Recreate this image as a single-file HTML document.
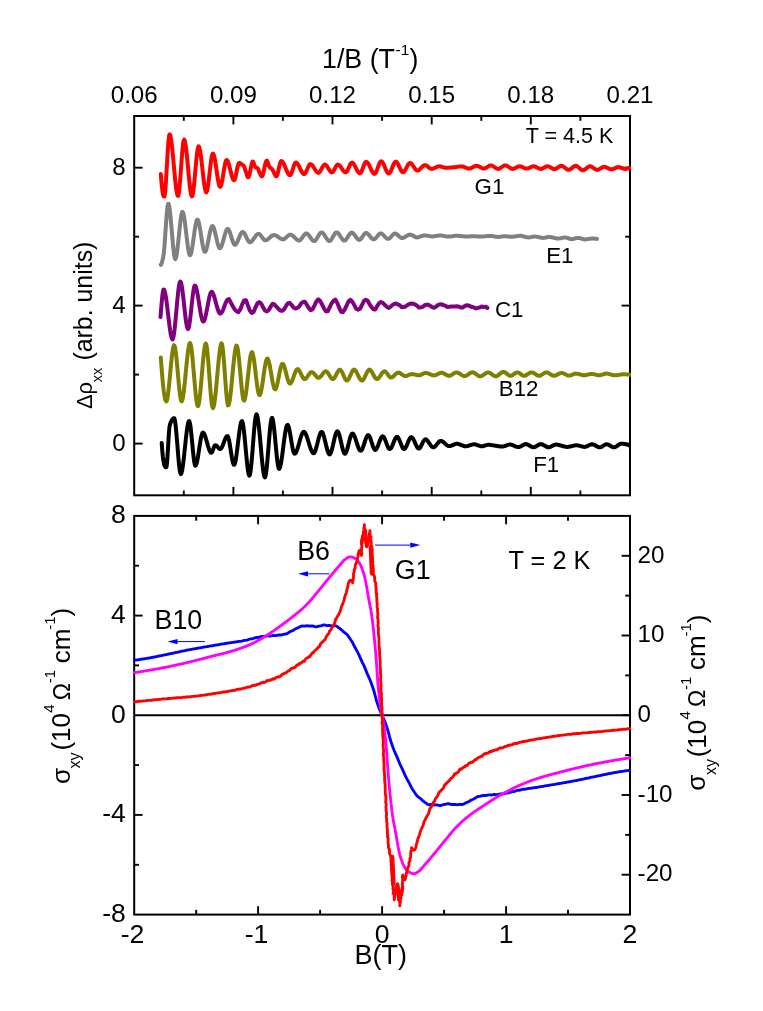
<!DOCTYPE html>
<html><head><meta charset="utf-8"><title>chart</title>
<style>html,body{margin:0;padding:0;background:#fff}svg{display:block;will-change:transform}</style></head>
<body>
<svg width="763" height="1011" viewBox="0 0 763 1011" font-family="'Liberation Sans', sans-serif" fill="#000">
<rect width="763" height="1011" fill="#fff"/>
<defs><clipPath id="ct"><rect x="133.2" y="115" width="497.8" height="381.3"/></clipPath>
<clipPath id="cb"><rect x="133.2" y="514.9" width="497.8" height="400.7"/></clipPath></defs>
<rect x="134.2" y="116" width="495.8" height="379.3" fill="none" stroke="#000" stroke-width="2.0"/>
<text x="134.2" y="102.6" font-size="24.1" text-anchor="middle" >0.06</text>
<line x1="183.8" y1="116" x2="183.8" y2="120.8" stroke="#000" stroke-width="1.9"/>
<line x1="183.8" y1="495.3" x2="183.8" y2="490.5" stroke="#000" stroke-width="1.9"/>
<line x1="233.4" y1="116" x2="233.4" y2="124.4" stroke="#000" stroke-width="1.9"/>
<line x1="233.4" y1="495.3" x2="233.4" y2="486.9" stroke="#000" stroke-width="1.9"/>
<text x="233.4" y="102.6" font-size="24.1" text-anchor="middle" >0.09</text>
<line x1="282.9" y1="116" x2="282.9" y2="120.8" stroke="#000" stroke-width="1.9"/>
<line x1="282.9" y1="495.3" x2="282.9" y2="490.5" stroke="#000" stroke-width="1.9"/>
<line x1="332.5" y1="116" x2="332.5" y2="124.4" stroke="#000" stroke-width="1.9"/>
<line x1="332.5" y1="495.3" x2="332.5" y2="486.9" stroke="#000" stroke-width="1.9"/>
<text x="332.5" y="102.6" font-size="24.1" text-anchor="middle" >0.12</text>
<line x1="382.1" y1="116" x2="382.1" y2="120.8" stroke="#000" stroke-width="1.9"/>
<line x1="382.1" y1="495.3" x2="382.1" y2="490.5" stroke="#000" stroke-width="1.9"/>
<line x1="431.7" y1="116" x2="431.7" y2="124.4" stroke="#000" stroke-width="1.9"/>
<line x1="431.7" y1="495.3" x2="431.7" y2="486.9" stroke="#000" stroke-width="1.9"/>
<text x="431.7" y="102.6" font-size="24.1" text-anchor="middle" >0.15</text>
<line x1="481.3" y1="116" x2="481.3" y2="120.8" stroke="#000" stroke-width="1.9"/>
<line x1="481.3" y1="495.3" x2="481.3" y2="490.5" stroke="#000" stroke-width="1.9"/>
<line x1="530.8" y1="116" x2="530.8" y2="124.4" stroke="#000" stroke-width="1.9"/>
<line x1="530.8" y1="495.3" x2="530.8" y2="486.9" stroke="#000" stroke-width="1.9"/>
<text x="530.8" y="102.6" font-size="24.1" text-anchor="middle" >0.18</text>
<line x1="580.4" y1="116" x2="580.4" y2="120.8" stroke="#000" stroke-width="1.9"/>
<line x1="580.4" y1="495.3" x2="580.4" y2="490.5" stroke="#000" stroke-width="1.9"/>
<text x="630" y="102.6" font-size="24.1" text-anchor="middle" >0.21</text>
<line x1="134.2" y1="443.6" x2="142.6" y2="443.6" stroke="#000" stroke-width="1.9"/>
<line x1="630" y1="443.6" x2="621.6" y2="443.6" stroke="#000" stroke-width="1.9"/>
<text x="125.7" y="450.7" font-size="24.1" text-anchor="end" >0</text>
<line x1="134.2" y1="374.6" x2="139" y2="374.6" stroke="#000" stroke-width="1.9"/>
<line x1="630" y1="374.6" x2="625.2" y2="374.6" stroke="#000" stroke-width="1.9"/>
<line x1="134.2" y1="305.6" x2="142.6" y2="305.6" stroke="#000" stroke-width="1.9"/>
<line x1="630" y1="305.6" x2="621.6" y2="305.6" stroke="#000" stroke-width="1.9"/>
<text x="125.7" y="312.8" font-size="24.1" text-anchor="end" >4</text>
<line x1="134.2" y1="236.7" x2="139" y2="236.7" stroke="#000" stroke-width="1.9"/>
<line x1="630" y1="236.7" x2="625.2" y2="236.7" stroke="#000" stroke-width="1.9"/>
<line x1="134.2" y1="167.7" x2="142.6" y2="167.7" stroke="#000" stroke-width="1.9"/>
<line x1="630" y1="167.7" x2="621.6" y2="167.7" stroke="#000" stroke-width="1.9"/>
<text x="125.7" y="174.8" font-size="24.1" text-anchor="end" >8</text>
<rect x="134.2" y="515.9" width="495.8" height="398.7" fill="none" stroke="#000" stroke-width="2.0"/>
<line x1="134.2" y1="715.2" x2="630" y2="715.2" stroke="#000" stroke-width="2.0"/>
<text x="132.6" y="942.6" font-size="26.6" text-anchor="middle" >-2</text>
<line x1="196.2" y1="515.9" x2="196.2" y2="520.7" stroke="#000" stroke-width="1.9"/>
<line x1="196.2" y1="914.6" x2="196.2" y2="909.8" stroke="#000" stroke-width="1.9"/>
<line x1="258.1" y1="515.9" x2="258.1" y2="524.3" stroke="#000" stroke-width="1.9"/>
<line x1="258.1" y1="914.6" x2="258.1" y2="906.2" stroke="#000" stroke-width="1.9"/>
<text x="256.5" y="942.6" font-size="26.6" text-anchor="middle" >-1</text>
<line x1="320.1" y1="515.9" x2="320.1" y2="520.7" stroke="#000" stroke-width="1.9"/>
<line x1="320.1" y1="914.6" x2="320.1" y2="909.8" stroke="#000" stroke-width="1.9"/>
<line x1="382.1" y1="515.9" x2="382.1" y2="524.3" stroke="#000" stroke-width="1.9"/>
<line x1="382.1" y1="914.6" x2="382.1" y2="906.2" stroke="#000" stroke-width="1.9"/>
<text x="382.1" y="942.6" font-size="26.6" text-anchor="middle" >0</text>
<line x1="444.1" y1="515.9" x2="444.1" y2="520.7" stroke="#000" stroke-width="1.9"/>
<line x1="444.1" y1="914.6" x2="444.1" y2="909.8" stroke="#000" stroke-width="1.9"/>
<line x1="506.1" y1="515.9" x2="506.1" y2="524.3" stroke="#000" stroke-width="1.9"/>
<line x1="506.1" y1="914.6" x2="506.1" y2="906.2" stroke="#000" stroke-width="1.9"/>
<text x="506.1" y="942.6" font-size="26.6" text-anchor="middle" >1</text>
<line x1="568" y1="515.9" x2="568" y2="520.7" stroke="#000" stroke-width="1.9"/>
<line x1="568" y1="914.6" x2="568" y2="909.8" stroke="#000" stroke-width="1.9"/>
<text x="630" y="942.6" font-size="26.6" text-anchor="middle" >2</text>
<text x="125.8" y="921.9" font-size="26.5" text-anchor="end" >-8</text>
<line x1="134.2" y1="864.8" x2="139" y2="864.8" stroke="#000" stroke-width="1.9"/>
<line x1="134.2" y1="814.9" x2="142.6" y2="814.9" stroke="#000" stroke-width="1.9"/>
<text x="125.8" y="822.2" font-size="26.5" text-anchor="end" >-4</text>
<line x1="134.2" y1="765.1" x2="139" y2="765.1" stroke="#000" stroke-width="1.9"/>
<text x="125.8" y="722.5" font-size="26.5" text-anchor="end" >0</text>
<line x1="134.2" y1="665.4" x2="139" y2="665.4" stroke="#000" stroke-width="1.9"/>
<line x1="134.2" y1="615.6" x2="142.6" y2="615.6" stroke="#000" stroke-width="1.9"/>
<text x="125.8" y="622.9" font-size="26.5" text-anchor="end" >4</text>
<line x1="134.2" y1="565.7" x2="139" y2="565.7" stroke="#000" stroke-width="1.9"/>
<text x="125.8" y="523.2" font-size="26.5" text-anchor="end" >8</text>
<line x1="630" y1="874.7" x2="621.6" y2="874.7" stroke="#000" stroke-width="1.9"/>
<text x="637.6" y="881.4" font-size="24.2" text-anchor="start" >-20</text>
<line x1="630" y1="834.9" x2="625.2" y2="834.9" stroke="#000" stroke-width="1.9"/>
<line x1="630" y1="795" x2="621.6" y2="795" stroke="#000" stroke-width="1.9"/>
<text x="637.6" y="801.7" font-size="24.2" text-anchor="start" >-10</text>
<line x1="630" y1="755.1" x2="625.2" y2="755.1" stroke="#000" stroke-width="1.9"/>
<line x1="630" y1="715.2" x2="621.6" y2="715.2" stroke="#000" stroke-width="1.9"/>
<text x="637.6" y="722" font-size="24.2" text-anchor="start" >0</text>
<line x1="630" y1="675.4" x2="625.2" y2="675.4" stroke="#000" stroke-width="1.9"/>
<line x1="630" y1="635.5" x2="621.6" y2="635.5" stroke="#000" stroke-width="1.9"/>
<text x="637.6" y="642.2" font-size="24.2" text-anchor="start" >10</text>
<line x1="630" y1="595.6" x2="625.2" y2="595.6" stroke="#000" stroke-width="1.9"/>
<line x1="630" y1="555.8" x2="621.6" y2="555.8" stroke="#000" stroke-width="1.9"/>
<text x="637.6" y="562.5" font-size="24.2" text-anchor="start" >20</text>
<g clip-path="url(#ct)">
<path d="M161.7 442.9 L162.3 451 L162.9 457 L163.5 461.4 L164.1 464.3 L164.7 466.1 L165.3 467 L165.9 467.4 L166.5 467 L167.1 462.2 L167.7 453.5 L168.3 443.1 L168.9 433.4 L169.5 426.6 L170.1 424.1 L170.7 422.6 L171.3 421.2 L171.9 420.1 L172.5 419.2 L173.1 418.5 L173.7 418.2 L174.3 418.2 L174.9 420.3 L175.5 424.4 L176.1 430.1 L176.7 436.9 L177.3 444.2 L177.9 451.7 L178.5 458.8 L179.1 465.1 L179.7 470.1 L180.3 473.2 L180.9 474.1 L181.5 473 L182.1 470.6 L182.7 467 L183.3 462.5 L183.9 457.4 L184.5 451.9 L185.1 446.1 L185.7 440.4 L186.3 435.1 L186.9 430.2 L187.5 426.2 L188.1 423.1 L188.7 421.4 L189.3 421.1 L189.9 423 L190.5 426.6 L191.1 431.7 L191.7 437.6 L192.3 443.9 L192.9 450.2 L193.5 456 L194.1 460.8 L194.7 464.2 L195.3 465.7 L195.9 465.3 L196.5 463.8 L197.1 461.4 L197.7 458.3 L198.3 454.7 L198.9 450.8 L199.5 446.8 L200.1 443 L200.7 439.5 L201.3 436.5 L201.9 434.2 L202.5 432.9 L203.1 432.6 L203.7 433.1 L204.3 434.1 L204.9 435.5 L205.5 437.2 L206.1 439.2 L206.7 441.3 L207.3 443.4 L207.9 445.6 L208.5 447.6 L209.1 449.4 L209.7 450.9 L210.3 452 L210.9 452.7 L211.5 452.7 L212.1 452 L212.7 450.6 L213.3 449 L213.9 447.3 L214.5 445.9 L215.1 445.2 L215.7 445.2 L216.3 445.5 L216.9 446.1 L217.5 446.8 L218.1 447.5 L218.7 448.2 L219.3 448.7 L219.9 449.1 L220.5 449 L221.1 448.5 L221.7 447.6 L222.3 446.4 L222.9 445 L223.5 443.4 L224.1 441.7 L224.7 440.1 L225.3 438.7 L225.9 437.5 L226.5 436.6 L227.1 436.1 L227.7 436.2 L228.3 437.4 L228.9 439.7 L229.5 442.7 L230.1 446.3 L230.7 450.1 L231.3 454 L231.9 457.6 L232.5 460.7 L233.1 463.2 L233.7 464.6 L234.3 464.8 L234.9 463.6 L235.5 461.2 L236.1 457.7 L236.7 453.5 L237.3 448.8 L237.9 443.8 L238.5 438.8 L239.1 433.9 L239.7 429.5 L240.3 425.8 L240.9 423 L241.5 421.3 L242.1 421.1 L242.7 422.7 L243.3 426 L243.9 430.6 L244.5 436.2 L245.1 442.4 L245.7 448.9 L246.3 455.4 L246.9 461.5 L247.5 466.9 L248.1 471.3 L248.7 474.4 L249.3 475.7 L249.9 474.8 L250.5 471.7 L251.1 466.8 L251.7 460.5 L252.3 453.3 L252.9 445.6 L253.5 437.9 L254.1 430.6 L254.7 424.1 L255.3 419 L255.9 415.5 L256.5 414.3 L257.1 415.2 L257.7 417.8 L258.3 421.8 L258.9 426.8 L259.5 432.7 L260.1 439.1 L260.7 445.8 L261.3 452.6 L261.9 459 L262.5 464.9 L263.1 469.9 L263.7 473.9 L264.3 476.5 L264.9 477.4 L265.5 476.2 L266.1 472.9 L266.7 467.9 L267.3 461.6 L267.9 454.5 L268.5 447 L269.1 439.5 L269.7 432.5 L270.3 426.4 L270.9 421.6 L271.5 418.6 L272.1 417.8 L272.7 419.2 L273.3 422.3 L273.9 426.8 L274.5 432.3 L275.1 438.5 L275.7 445 L276.3 451.3 L276.9 457.2 L277.5 462.3 L278.1 466.1 L278.7 468.4 L279.3 468.8 L279.9 467.8 L280.5 465.6 L281.1 462.6 L281.7 458.8 L282.3 454.6 L282.9 450 L283.5 445.3 L284.1 440.6 L284.7 436.2 L285.3 432.3 L285.9 429 L286.5 426.5 L287.1 425.1 L287.7 424.9 L288.3 425.8 L288.9 427.7 L289.5 430.4 L290.1 433.6 L290.7 437.2 L291.3 440.8 L291.9 444.4 L292.5 447.7 L293.1 450.5 L293.7 452.5 L294.3 453.6 L294.9 453.7 L295.5 453.2 L296.1 452.2 L296.7 450.9 L297.3 449.2 L297.9 447.3 L298.5 445.3 L299.1 443.2 L299.7 441 L300.3 438.9 L300.9 437 L301.5 435.2 L302.1 433.8 L302.7 432.7 L303.3 432 L303.9 431.8 L304.5 432.1 L305.1 432.8 L305.7 433.9 L306.3 435.3 L306.9 436.9 L307.5 438.7 L308.1 440.6 L308.7 442.5 L309.3 444.5 L309.9 446.4 L310.5 448.2 L311.1 449.8 L311.7 451.2 L312.3 452.3 L312.9 453 L313.5 453.3 L314.1 453.1 L314.7 452.2 L315.3 450.8 L315.9 449 L316.5 446.9 L317.1 444.6 L317.7 442.1 L318.3 439.8 L318.9 437.5 L319.5 435.5 L320.1 433.8 L320.7 432.6 L321.3 431.9 L321.9 431.9 L322.5 432.6 L323.1 433.9 L323.7 435.7 L324.3 437.8 L324.9 440.2 L325.5 442.7 L326.1 445.2 L326.7 447.6 L327.3 449.9 L327.9 451.8 L328.5 453.2 L329.1 454.1 L329.7 454.4 L330.3 453.9 L330.9 452.7 L331.5 451 L332.1 448.8 L332.7 446.4 L333.3 443.7 L333.9 441.1 L334.5 438.5 L335.1 436.1 L335.7 434.1 L336.3 432.5 L336.9 431.6 L337.5 431.3 L338.1 431.9 L338.7 433.1 L339.3 434.9 L339.9 437.1 L340.5 439.7 L341.1 442.3 L341.7 445 L342.3 447.6 L342.9 449.9 L343.5 451.7 L344.1 453.1 L344.7 453.8 L345.3 453.6 L345.9 452.8 L346.5 451.4 L347.1 449.6 L347.7 447.4 L348.3 445.1 L348.9 442.6 L349.5 440.3 L350.1 438.1 L350.7 436.2 L351.3 434.7 L351.9 433.8 L352.5 433.5 L353.1 433.8 L353.7 434.6 L354.3 435.8 L354.9 437.3 L355.5 438.9 L356.1 440.7 L356.7 442.6 L357.3 444.5 L357.9 446.2 L358.5 447.8 L359.1 449.1 L359.7 450.1 L360.3 450.7 L360.9 450.8 L361.5 450.3 L362.1 449.4 L362.7 448 L363.3 446.4 L363.9 444.7 L364.5 442.8 L365.1 440.9 L365.7 439.2 L366.3 437.6 L366.9 436.4 L367.5 435.5 L368.1 435.1 L368.7 435.3 L369.3 436.1 L369.9 437.3 L370.5 438.8 L371.1 440.6 L371.7 442.5 L372.3 444.4 L372.9 446.2 L373.5 447.7 L374.1 448.9 L374.7 449.7 L375.3 449.9 L375.9 449.6 L376.5 448.8 L377.1 447.7 L377.7 446.4 L378.3 444.9 L378.9 443.2 L379.5 441.6 L380.1 440.1 L380.7 438.7 L381.3 437.5 L381.9 436.7 L382.5 436.3 L383.1 436.4 L383.7 437 L384.3 438 L384.9 439.2 L385.5 440.7 L386.1 442.3 L386.7 443.9 L387.3 445.5 L387.9 446.8 L388.5 448 L389.1 448.8 L389.7 449.1 L390.3 448.9 L390.9 448.3 L391.5 447.4 L392.1 446.1 L392.7 444.7 L393.3 443.2 L393.9 441.7 L394.5 440.2 L395.1 438.9 L395.7 437.9 L396.3 437.1 L396.9 436.8 L397.5 437 L398.1 437.6 L398.7 438.6 L399.3 439.8 L399.9 441.3 L400.5 442.8 L401.1 444.4 L401.7 445.8 L402.3 447.1 L402.9 448.2 L403.5 448.9 L404.1 449.1 L404.7 448.9 L405.3 448.2 L405.9 447.2 L406.5 446 L407.1 444.6 L407.7 443.1 L408.3 441.6 L408.9 440.2 L409.5 439 L410.1 438 L410.7 437.3 L411.3 437.1 L411.9 437.3 L412.5 437.9 L413.1 438.8 L413.7 439.9 L414.3 441.1 L414.9 442.5 L415.5 443.9 L416.1 445.2 L416.7 446.4 L417.3 447.4 L417.9 448.1 L418.5 448.5 L419.1 448.5 L419.7 448.1 L420.3 447.4 L420.9 446.4 L421.5 445.2 L422.1 444 L422.7 442.7 L423.3 441.5 L423.9 440.5 L424.5 439.8 L425.1 439.4 L425.7 439.3 L426.3 439.6 L426.9 440.1 L427.5 440.7 L428.1 441.5 L428.7 442.4 L429.3 443.3 L429.9 444.2 L430.5 445.1 L431.1 445.9 L431.7 446.5 L432.3 447 L432.9 447.3 L433.5 447.4 L434.1 447.2 L434.7 446.8 L435.3 446.3 L435.9 445.6 L436.5 444.9 L437.1 444.1 L437.7 443.3 L438.3 442.6 L438.9 441.9 L439.5 441.4 L440.1 441.1 L440.7 440.9 L441.3 441 L441.9 441.1 L442.5 441.5 L443.1 441.9 L443.7 442.4 L444.3 442.9 L444.9 443.5 L445.5 444 L446.1 444.6 L446.7 445 L447.3 445.5 L447.9 445.8 L448.5 446 L449.1 446.1 L449.7 446.1 L450.3 446 L450.9 445.8 L451.5 445.6 L452.1 445.3 L452.7 445.1 L453.3 444.8 L453.9 444.6 L454.5 444.3 L455.1 444.1 L455.7 443.9 L456.3 443.8 L456.9 443.8 L457.5 443.8 L458.1 443.9 L458.7 444.1 L459.3 444.3 L459.9 444.5 L460.5 444.7 L461.1 445 L461.7 445.2 L462.3 445.5 L462.9 445.7 L463.5 445.9 L464.1 446.1 L464.7 446.2 L465.3 446.3 L465.9 446.3 L466.5 446.2 L467.1 446.1 L467.7 446 L468.3 445.8 L468.9 445.6 L469.5 445.4 L470.1 445.2 L470.7 445 L471.3 444.8 L471.9 444.6 L472.5 444.5 L473.1 444.4 L473.7 444.3 L474.3 444.3 L474.9 444.4 L475.5 444.5 L476.1 444.6 L476.7 444.8 L477.3 445.1 L477.9 445.3 L478.5 445.5 L479.1 445.7 L479.7 445.9 L480.3 446.1 L480.9 446.2 L481.5 446.3 L482.1 446.3 L482.7 446.2 L483.3 446.1 L483.9 445.9 L484.5 445.7 L485.1 445.5 L485.7 445.3 L486.3 445.1 L486.9 445 L487.5 444.9 L488.1 444.8 L488.7 444.8 L489.3 444.8 L489.9 444.9 L490.5 444.9 L491.1 445 L491.7 445.1 L492.3 445.2 L492.9 445.3 L493.5 445.4 L494.1 445.5 L494.7 445.6 L495.3 445.7 L495.9 445.8 L496.5 445.9 L497.1 446 L497.7 446.2 L498.3 446.2 L498.9 446.3 L499.5 446.4 L500.1 446.5 L500.7 446.5 L501.3 446.6 L501.9 446.6 L502.5 446.6 L503.1 446.5 L503.7 446.4 L504.3 446.2 L504.9 446 L505.5 445.8 L506.1 445.6 L506.7 445.3 L507.3 445.1 L507.9 444.9 L508.5 444.7 L509.1 444.6 L509.7 444.5 L510.3 444.5 L510.9 444.6 L511.5 444.7 L512.1 444.9 L512.7 445.2 L513.3 445.4 L513.9 445.7 L514.5 446 L515.1 446.3 L515.7 446.5 L516.3 446.7 L516.9 446.9 L517.5 447 L518.1 447.1 L518.7 447.1 L519.3 447 L519.9 446.7 L520.5 446.5 L521.1 446.2 L521.7 445.8 L522.3 445.5 L522.9 445.1 L523.5 444.8 L524.1 444.5 L524.7 444.3 L525.3 444.1 L525.9 444.1 L526.5 444.2 L527.1 444.3 L527.7 444.6 L528.3 444.9 L528.9 445.2 L529.5 445.6 L530.1 445.9 L530.7 446.3 L531.3 446.6 L531.9 446.9 L532.5 447.1 L533.1 447.3 L533.7 447.3 L534.3 447.2 L534.9 447 L535.5 446.7 L536.1 446.4 L536.7 446 L537.3 445.6 L537.9 445.2 L538.5 444.9 L539.1 444.6 L539.7 444.3 L540.3 444.1 L540.9 444.1 L541.5 444.2 L542.1 444.3 L542.7 444.6 L543.3 444.9 L543.9 445.2 L544.5 445.6 L545.1 445.9 L545.7 446.3 L546.3 446.6 L546.9 446.9 L547.5 447.1 L548.1 447.3 L548.7 447.3 L549.3 447.2 L549.9 447.1 L550.5 446.8 L551.1 446.5 L551.7 446.2 L552.3 445.9 L552.9 445.6 L553.5 445.3 L554.1 445 L554.7 444.8 L555.3 444.6 L555.9 444.6 L556.5 444.6 L557.1 444.7 L557.7 444.8 L558.3 444.9 L558.9 445 L559.5 445.2 L560.1 445.3 L560.7 445.5 L561.3 445.7 L561.9 445.8 L562.5 446 L563.1 446.2 L563.7 446.3 L564.3 446.5 L564.9 446.6 L565.5 446.7 L566.1 446.8 L566.7 446.9 L567.3 446.9 L567.9 446.9 L568.5 446.8 L569.1 446.8 L569.7 446.7 L570.3 446.5 L570.9 446.4 L571.5 446.2 L572.1 446.1 L572.7 445.9 L573.3 445.8 L573.9 445.6 L574.5 445.5 L575.1 445.4 L575.7 445.3 L576.3 445.3 L576.9 445.3 L577.5 445.4 L578.1 445.4 L578.7 445.6 L579.3 445.7 L579.9 445.9 L580.5 446.1 L581.1 446.2 L581.7 446.4 L582.3 446.6 L582.9 446.7 L583.5 446.8 L584.1 446.9 L584.7 446.9 L585.3 446.8 L585.9 446.7 L586.5 446.5 L587.1 446.2 L587.7 445.9 L588.3 445.6 L588.9 445.3 L589.5 445 L590.1 444.7 L590.7 444.5 L591.3 444.3 L591.9 444.3 L592.5 444.3 L593.1 444.5 L593.7 444.7 L594.3 444.9 L594.9 445.2 L595.5 445.6 L596.1 445.9 L596.7 446.2 L597.3 446.6 L597.9 446.8 L598.5 447.1 L599.1 447.2 L599.7 447.3 L600.3 447.3 L600.9 447.1 L601.5 446.9 L602.1 446.5 L602.7 446.1 L603.3 445.7 L603.9 445.3 L604.5 445 L605.1 444.6 L605.7 444.4 L606.3 444.3 L606.9 444.3 L607.5 444.4 L608.1 444.7 L608.7 444.9 L609.3 445.2 L609.9 445.6 L610.5 445.9 L611.1 446.3 L611.7 446.6 L612.3 446.9 L612.9 447.1 L613.5 447.3 L614.1 447.3 L614.7 447.2 L615.3 447 L615.9 446.7 L616.5 446.3 L617.1 445.9 L617.7 445.5 L618.3 445 L618.9 444.6 L619.5 444.3 L620.1 444 L620.7 443.8 L621.3 443.8 L621.9 443.8 L622.5 443.8 L623.1 443.8 L623.7 443.9 L624.3 443.9 L624.9 444 L625.5 444.1 L626.1 444.3 L626.7 444.4 L627.3 444.6 L627.9 444.9 L628.5 445.1 L629 445.4" fill="none" stroke="#000000" stroke-width="4.0" stroke-linejoin="round" stroke-linecap="round" />
<path d="M160.8 357.5 L161.4 365.7 L162 373.3 L162.6 380.1 L163.2 386.2 L163.8 391.3 L164.4 395.4 L165 398.5 L165.6 400.6 L166.2 401.4 L166.8 400.7 L167.4 398.4 L168 394.6 L168.6 389.6 L169.2 383.9 L169.8 377.6 L170.4 371.1 L171 364.8 L171.6 358.8 L172.2 353.6 L172.8 349.4 L173.4 346.5 L174 345.2 L174.6 345.9 L175.2 348.5 L175.8 352.6 L176.4 357.8 L177 363.9 L177.6 370.5 L178.2 377.2 L178.8 383.7 L179.4 389.7 L180 394.8 L180.6 398.7 L181.2 400.9 L181.8 401.3 L182.4 399.9 L183 397.1 L183.6 393 L184.2 388.1 L184.8 382.4 L185.4 376.4 L186 370.1 L186.6 364 L187.2 358.1 L187.8 352.9 L188.4 348.5 L189 345.3 L189.6 343.4 L190.2 343.1 L190.8 344.8 L191.4 348.2 L192 353.1 L192.6 359 L193.2 365.7 L193.8 372.8 L194.4 379.9 L195 386.8 L195.6 393.2 L196.2 398.6 L196.8 402.8 L197.4 405.4 L198 406.1 L198.6 404.7 L199.2 401.6 L199.8 397 L200.4 391.3 L201 384.7 L201.6 377.8 L202.2 370.7 L202.8 363.7 L203.4 357.3 L204 351.8 L204.6 347.4 L205.2 344.5 L205.8 343.5 L206.4 344.8 L207 348.4 L207.6 353.9 L208.2 360.7 L208.8 368.4 L209.4 376.5 L210 384.6 L210.6 392.2 L211.2 398.8 L211.8 403.9 L212.4 407.2 L213 408.1 L213.6 406.9 L214.2 404.2 L214.8 400.2 L215.4 395.1 L216 389.3 L216.6 382.9 L217.2 376.3 L217.8 369.6 L218.4 363.2 L219 357.2 L219.6 352 L220.2 347.8 L220.8 344.8 L221.4 343.4 L222 344 L222.6 347.2 L223.2 352.5 L223.8 359.5 L224.4 367.4 L225 375.9 L225.6 384.2 L226.2 391.9 L226.8 398.4 L227.4 403.1 L228 405.4 L228.6 405.2 L229.2 403.2 L229.8 399.9 L230.4 395.4 L231 390 L231.6 384 L232.2 377.7 L232.8 371.3 L233.4 365 L234 359.2 L234.6 354.1 L235.2 350 L235.8 347 L236.4 345.6 L237 346 L237.6 348.3 L238.2 352.1 L238.8 357.2 L239.4 363.2 L240 369.8 L240.6 376.4 L241.2 383 L241.8 389 L242.4 394.1 L243 397.9 L243.6 400.2 L244.2 400.6 L244.8 399.3 L245.4 396.7 L246 392.9 L246.6 388.4 L247.2 383.2 L247.8 377.8 L248.4 372.3 L249 366.9 L249.6 362.1 L250.2 357.9 L250.8 354.7 L251.4 352.7 L252 352.1 L252.6 353.1 L253.2 355.5 L253.8 358.8 L254.4 363 L255 367.8 L255.6 372.8 L256.2 377.9 L256.8 382.8 L257.4 387.2 L258 390.9 L258.6 393.6 L259.2 395.1 L259.8 395.1 L260.4 393.9 L261 391.7 L261.6 388.7 L262.2 385.1 L262.8 381.1 L263.4 376.9 L264 372.7 L264.6 368.7 L265.2 365.1 L265.8 362.1 L266.4 359.9 L267 358.7 L267.6 358.6 L268.2 359.6 L268.8 361.5 L269.4 364 L270 367 L270.6 370.4 L271.2 373.9 L271.8 377.5 L272.4 380.9 L273 383.9 L273.6 386.4 L274.2 388.3 L274.8 389.3 L275.4 389.3 L276 388.4 L276.6 386.7 L277.2 384.4 L277.8 381.7 L278.4 378.7 L279 375.6 L279.6 372.5 L280.2 369.7 L280.8 367.2 L281.4 365.3 L282 364.1 L282.6 363.8 L283.2 364.3 L283.8 365.4 L284.4 367 L285 368.9 L285.6 371.2 L286.2 373.5 L286.8 375.9 L287.4 378.1 L288 380.1 L288.6 381.8 L289.2 383 L289.8 383.6 L290.4 383.5 L291 382.9 L291.6 381.9 L292.2 380.6 L292.8 379 L293.4 377.4 L294 375.6 L294.6 373.9 L295.2 372.4 L295.8 371 L296.4 369.9 L297 369.3 L297.6 369.1 L298.2 369.4 L298.8 370 L299.4 370.9 L300 371.9 L300.6 373.2 L301.2 374.4 L301.8 375.7 L302.4 376.8 L303 377.8 L303.6 378.6 L304.2 379 L304.8 379.1 L305.4 378.8 L306 378.4 L306.6 377.7 L307.2 376.9 L307.8 376 L308.4 375.2 L309 374.3 L309.6 373.5 L310.2 372.8 L310.8 372.4 L311.4 372.1 L312 372.2 L312.6 372.4 L313.2 372.9 L313.8 373.4 L314.4 374.1 L315 374.8 L315.6 375.6 L316.2 376.2 L316.8 376.9 L317.4 377.4 L318 377.7 L318.6 377.8 L319.2 377.7 L319.8 377.3 L320.4 376.8 L321 376.1 L321.6 375.4 L322.2 374.6 L322.8 373.7 L323.4 373 L324 372.3 L324.6 371.8 L325.2 371.4 L325.8 371.3 L326.4 371.5 L327 371.9 L327.6 372.5 L328.2 373.4 L328.8 374.3 L329.4 375.3 L330 376.3 L330.6 377.2 L331.2 378 L331.8 378.6 L332.4 379 L333 379.1 L333.6 378.8 L334.2 378.2 L334.8 377.4 L335.4 376.3 L336 375.2 L336.6 373.9 L337.2 372.7 L337.8 371.7 L338.4 370.7 L339 370 L339.6 369.7 L340.2 369.7 L340.8 370.1 L341.4 370.9 L342 372 L342.6 373.2 L343.2 374.6 L343.8 376 L344.4 377.4 L345 378.6 L345.6 379.6 L346.2 380.3 L346.8 380.6 L347.4 380.4 L348 379.9 L348.6 379 L349.2 377.9 L349.8 376.7 L350.4 375.3 L351 374 L351.6 372.7 L352.2 371.5 L352.8 370.5 L353.4 369.9 L354 369.6 L354.6 369.7 L355.2 370.2 L355.8 370.9 L356.4 371.9 L357 373 L357.6 374.3 L358.2 375.5 L358.8 376.8 L359.4 377.9 L360 379 L360.6 379.8 L361.2 380.4 L361.8 380.6 L362.4 380.5 L363 380 L363.6 379.2 L364.2 378.1 L364.8 376.9 L365.4 375.6 L366 374.3 L366.6 373.1 L367.2 371.9 L367.8 370.9 L368.4 370.1 L369 369.7 L369.6 369.6 L370.2 369.9 L370.8 370.5 L371.4 371.3 L372 372.2 L372.6 373.3 L373.2 374.4 L373.8 375.6 L374.4 376.6 L375 377.6 L375.6 378.3 L376.2 378.9 L376.8 379.1 L377.4 379 L378 378.7 L378.6 378.1 L379.2 377.4 L379.8 376.6 L380.4 375.7 L381 374.7 L381.6 373.8 L382.2 373 L382.8 372.3 L383.4 371.7 L384 371.4 L384.6 371.3 L385.2 371.5 L385.8 372 L386.4 372.6 L387 373.4 L387.6 374.2 L388.2 375.1 L388.8 375.9 L389.4 376.6 L390 377.2 L390.6 377.5 L391.2 377.6 L391.8 377.4 L392.4 377.1 L393 376.7 L393.6 376.1 L394.2 375.6 L394.8 374.9 L395.4 374.3 L396 373.8 L396.6 373.3 L397.2 372.9 L397.8 372.7 L398.4 372.6 L399 372.7 L399.6 372.9 L400.2 373.2 L400.8 373.6 L401.4 374.1 L402 374.5 L402.6 374.9 L403.2 375.3 L403.8 375.7 L404.4 375.9 L405 376.1 L405.6 376.1 L406.2 376 L406.8 375.8 L407.4 375.6 L408 375.3 L408.6 375 L409.2 374.7 L409.8 374.5 L410.4 374.3 L411 374.2 L411.6 374.1 L412.2 374.1 L412.8 374.2 L413.4 374.3 L414 374.4 L414.6 374.5 L415.2 374.7 L415.8 374.8 L416.4 374.9 L417 375.1 L417.6 375.2 L418.2 375.3 L418.8 375.3 L419.4 375.3 L420 375.2 L420.6 375 L421.2 374.7 L421.8 374.4 L422.4 374.1 L423 373.8 L423.6 373.5 L424.2 373.2 L424.8 373 L425.4 372.9 L426 372.9 L426.6 373 L427.2 373.1 L427.8 373.3 L428.4 373.5 L429 373.7 L429.6 374 L430.2 374.3 L430.8 374.5 L431.4 374.8 L432 375 L432.6 375.2 L433.2 375.3 L433.8 375.4 L434.4 375.4 L435 375.3 L435.6 375.1 L436.2 374.9 L436.8 374.6 L437.4 374.3 L438 374 L438.6 373.7 L439.2 373.4 L439.8 373.2 L440.4 373 L441 372.8 L441.6 372.8 L442.2 372.9 L442.8 373 L443.4 373.2 L444 373.5 L444.6 373.9 L445.2 374.2 L445.8 374.6 L446.4 374.9 L447 375.2 L447.6 375.5 L448.2 375.7 L448.8 375.8 L449.4 375.8 L450 375.7 L450.6 375.4 L451.2 375.1 L451.8 374.8 L452.4 374.4 L453 374 L453.6 373.6 L454.2 373.2 L454.8 372.9 L455.4 372.6 L456 372.5 L456.6 372.4 L457.2 372.5 L457.8 372.6 L458.4 372.9 L459 373.2 L459.6 373.6 L460.2 374 L460.8 374.4 L461.4 374.8 L462 375.2 L462.6 375.5 L463.2 375.8 L463.8 376 L464.4 376.1 L465 376.1 L465.6 375.9 L466.2 375.7 L466.8 375.4 L467.4 375 L468 374.6 L468.6 374.1 L469.2 373.7 L469.8 373.3 L470.4 372.9 L471 372.6 L471.6 372.4 L472.2 372.3 L472.8 372.3 L473.4 372.5 L474 372.7 L474.6 373.1 L475.2 373.5 L475.8 373.9 L476.4 374.4 L477 374.8 L477.6 375.3 L478.2 375.6 L478.8 376 L479.4 376.2 L480 376.3 L480.6 376.3 L481.2 376.1 L481.8 375.9 L482.4 375.6 L483 375.2 L483.6 374.8 L484.2 374.4 L484.8 373.9 L485.4 373.5 L486 373.1 L486.6 372.8 L487.2 372.6 L487.8 372.4 L488.4 372.4 L489 372.5 L489.6 372.8 L490.2 373.1 L490.8 373.5 L491.4 373.9 L492 374.4 L492.6 374.9 L493.2 375.3 L493.8 375.7 L494.4 376 L495 376.2 L495.6 376.3 L496.2 376.2 L496.8 376.1 L497.4 375.8 L498 375.4 L498.6 374.9 L499.2 374.4 L499.8 373.9 L500.4 373.4 L501 373 L501.6 372.6 L502.2 372.2 L502.8 372 L503.4 371.9 L504 372 L504.6 372.2 L505.2 372.5 L505.8 372.9 L506.4 373.4 L507 373.9 L507.6 374.4 L508.2 374.9 L508.8 375.3 L509.4 375.6 L510 375.8 L510.6 375.8 L511.2 375.7 L511.8 375.5 L512.4 375.1 L513 374.8 L513.6 374.4 L514.2 373.9 L514.8 373.5 L515.4 373.1 L516 372.8 L516.6 372.6 L517.2 372.4 L517.8 372.4 L518.4 372.6 L519 372.8 L519.6 373.2 L520.2 373.6 L520.8 374.1 L521.4 374.6 L522 375 L522.6 375.4 L523.2 375.6 L523.8 375.8 L524.4 375.8 L525 375.7 L525.6 375.4 L526.2 375.1 L526.8 374.8 L527.4 374.4 L528 374 L528.6 373.6 L529.2 373.2 L529.8 372.9 L530.4 372.6 L531 372.5 L531.6 372.4 L532.2 372.5 L532.8 372.6 L533.4 372.9 L534 373.2 L534.6 373.6 L535.2 374 L535.8 374.4 L536.4 374.8 L537 375.1 L537.6 375.4 L538.2 375.7 L538.8 375.8 L539.4 375.8 L540 375.7 L540.6 375.4 L541.2 375.1 L541.8 374.7 L542.4 374.3 L543 373.9 L543.6 373.5 L544.2 373.1 L544.8 372.8 L545.4 372.5 L546 372.4 L546.6 372.4 L547.2 372.5 L547.8 372.7 L548.4 373 L549 373.3 L549.6 373.7 L550.2 374.1 L550.8 374.5 L551.4 374.9 L552 375.2 L552.6 375.5 L553.2 375.7 L553.8 375.8 L554.4 375.8 L555 375.7 L555.6 375.5 L556.2 375.2 L556.8 374.9 L557.4 374.6 L558 374.3 L558.6 373.9 L559.2 373.6 L559.8 373.3 L560.4 373.1 L561 373 L561.6 372.9 L562.2 372.9 L562.8 373.1 L563.4 373.3 L564 373.6 L564.6 373.9 L565.2 374.2 L565.8 374.5 L566.4 374.8 L567 375.1 L567.6 375.3 L568.2 375.5 L568.8 375.6 L569.4 375.6 L570 375.5 L570.6 375.3 L571.2 375.1 L571.8 374.9 L572.4 374.6 L573 374.3 L573.6 374.1 L574.2 373.9 L574.8 373.7 L575.4 373.6 L576 373.6 L576.6 373.7 L577.2 373.7 L577.8 373.9 L578.4 374 L579 374.2 L579.6 374.4 L580.2 374.5 L580.8 374.7 L581.4 374.9 L582 375 L582.6 375.2 L583.2 375.2 L583.8 375.3 L584.4 375.3 L585 375.2 L585.6 375.2 L586.2 375 L586.8 374.9 L587.4 374.7 L588 374.6 L588.6 374.4 L589.2 374.2 L589.8 374.1 L590.4 374 L591 373.9 L591.6 373.9 L592.2 373.9 L592.8 374 L593.4 374.1 L594 374.2 L594.6 374.4 L595.2 374.6 L595.8 374.7 L596.4 374.9 L597 375 L597.6 375.2 L598.2 375.3 L598.8 375.3 L599.4 375.3 L600 375.2 L600.6 375.1 L601.2 374.9 L601.8 374.8 L602.4 374.6 L603 374.4 L603.6 374.2 L604.2 374 L604.8 373.8 L605.4 373.7 L606 373.6 L606.6 373.6 L607.2 373.6 L607.8 373.7 L608.4 373.8 L609 374 L609.6 374.1 L610.2 374.3 L610.8 374.5 L611.4 374.7 L612 374.8 L612.6 375 L613.2 375.1 L613.8 375.2 L614.4 375.3 L615 375.3 L615.6 375.3 L616.2 375.2 L616.8 375.2 L617.4 375.1 L618 375 L618.6 374.9 L619.2 374.8 L619.8 374.7 L620.4 374.6 L621 374.6 L621.6 374.5 L622.2 374.4 L622.8 374.3 L623.4 374.3 L624 374.3 L624.6 374.3 L625.2 374.3 L625.8 374.4 L626.4 374.4 L627 374.4 L627.6 374.5 L628.2 374.6 L628.8 374.6 L629.4 374.7 L629.8 374.8" fill="none" stroke="#808000" stroke-width="4.0" stroke-linejoin="round" stroke-linecap="round" />
<path d="M160.5 317.1 L161.1 309.6 L161.7 302.4 L162.3 296.3 L162.9 291.8 L163.5 289.5 L164.1 289.6 L164.7 291.1 L165.3 293.7 L165.9 297.1 L166.5 301.3 L167.1 306 L167.7 310.9 L168.3 316.1 L168.9 321.1 L169.5 325.9 L170.1 330.3 L170.7 334 L171.3 336.9 L171.9 338.7 L172.5 339.4 L173.1 338.4 L173.7 335.7 L174.3 331.6 L174.9 326.3 L175.5 320.3 L176.1 313.8 L176.7 307.1 L177.3 300.6 L177.9 294.6 L178.5 289.3 L179.1 285.2 L179.7 282.5 L180.3 281.5 L180.9 282.3 L181.5 284.6 L182.1 288.1 L182.7 292.5 L183.3 297.5 L183.9 303 L184.5 308.5 L185.1 313.9 L185.7 318.9 L186.3 323.2 L186.9 326.5 L187.5 328.5 L188.1 329.1 L188.7 327.8 L189.3 325 L189.9 321 L190.5 316.1 L191.1 310.6 L191.7 304.9 L192.3 299.4 L192.9 294.4 L193.5 290.2 L194.1 287.1 L194.7 285.6 L195.3 285.7 L195.9 286.9 L196.5 288.9 L197.1 291.6 L197.7 294.9 L198.3 298.5 L198.9 302.3 L199.5 306.1 L200.1 309.9 L200.7 313.4 L201.3 316.4 L201.9 318.9 L202.5 320.7 L203.1 321.5 L203.7 321.4 L204.3 320.4 L204.9 318.7 L205.5 316.4 L206.1 313.7 L206.7 310.7 L207.3 307.5 L207.9 304.3 L208.5 301.2 L209.1 298.3 L209.7 295.8 L210.3 293.8 L210.9 292.4 L211.5 291.8 L212.1 292 L212.7 292.8 L213.3 294 L213.9 295.6 L214.5 297.6 L215.1 299.7 L215.7 301.9 L216.3 304.2 L216.9 306.4 L217.5 308.5 L218.1 310.3 L218.7 311.8 L219.3 312.9 L219.9 313.5 L220.5 313.5 L221.1 313.1 L221.7 312.4 L222.3 311.4 L222.9 310.1 L223.5 308.7 L225.1 304.3 L227 300 L228.9 299 L230.8 302.5 L232.7 306.2 L234.6 309.3 L236.5 311.2 L238.4 312.2 L240.3 309.5 L242.2 304.4 L244.1 300.5 L246 300.2 L247.9 305.4 L249.8 310.6 L251.7 312.9 L253.6 312 L255.5 307.3 L257.4 303.3 L259.3 302.1 L261.2 303.6 L263.1 307.4 L265 310.5 L266.9 311.4 L268.8 310 L270.7 306.6 L272.6 303.8 L274.5 304.4 L276.4 306.7 L278.3 308.6 L280.2 310.5 L282.1 310.9 L284 309.5 L285.9 306.2 L287.8 303.4 L289.7 302.8 L291.6 305 L293.5 307.6 L295.4 308.6 L297.3 307.9 L299.2 306.6 L301.1 303.4 L303 302 L304.9 301.7 L306.8 304.7 L308.7 307.9 L310.6 310.1 L312.5 309.3 L314.4 305.6 L316.3 301.6 L318.2 299.4 L320.1 300.9 L322 304.3 L323.9 308.2 L325.8 311.2 L327.7 311.3 L329.6 307.5 L331.5 303.5 L333.4 300.9 L335.3 299.5 L337.2 302.7 L339.1 307.4 L341 311.7 L342.9 312.1 L344.8 309.4 L346.7 305.4 L348.6 301.3 L350.5 299.8 L352.4 301.9 L354.3 305.1 L356.2 308.8 L358.1 309.7 L360 308.7 L361.9 305.3 L363.8 301.1 L365.7 299.7 L367.6 300.8 L369.5 304.1 L371.4 307 L373.3 309.2 L375.2 309.5 L377.1 306.3 L379 303.2 L380.9 302.1 L382.8 302.8 L384.7 304.8 L386.6 306.6 L388.5 307.9 L390.4 306.9 L392.3 305.1 L394.2 303.9 L396.1 303.5 L398 304.5 L399.9 305.4 L401.8 307.2 L403.7 307.1 L405.6 306.5 L407.5 305.1 L409.4 304.1 L411.3 303.5 L413.2 303.7 L415.1 304.5 L417 305.7 L418.9 307.5 L420.8 307.4 L422.7 306.9 L424.6 305.2 L426.5 304.7 L428.4 304.8 L430.3 305.9 L432.2 307.1 L434.1 307.8 L436 306.8 L437.9 305.1 L439.8 304.4 L441.7 304.2 L443.6 305.1 L445.5 305.8 L447.4 307 L449.3 306.8 L451.2 306.5 L453.1 306.4 L455 306.5 L456.9 306.2 L458.8 306.6 L460.7 307.5 L462.6 307.6 L464.5 306.2 L466.4 305.2 L468.3 305.5 L470.2 306.2 L472.1 307.1 L474 307.4 L475.9 308.4 L477.8 307.8 L479.7 307.5 L481.6 306.4 L483.5 307.1 L485.4 306.7 L487.3 307.5 L487.4 308.1" fill="none" stroke="#800080" stroke-width="4.0" stroke-linejoin="round" stroke-linecap="round" />
<path d="M160.8 264.9 L161.4 263.9 L162 262.1 L162.6 259.8 L163.2 257.1 L163.8 253.2 L164.4 246.8 L165 238.8 L165.6 230 L166.2 221.3 L166.8 213.5 L167.4 207.4 L168 204 L168.6 203.8 L169.2 206 L169.8 210.1 L170.4 215.5 L171 221.9 L171.6 228.9 L172.2 236 L172.8 242.9 L173.4 249 L174 254.1 L174.6 257.5 L175.2 259.1 L175.8 258.4 L176.4 256.1 L177 252.4 L177.6 247.7 L178.2 242.3 L178.8 236.4 L179.4 230.6 L180 224.9 L180.6 219.9 L181.2 215.9 L181.8 213.1 L182.4 211.8 L183 212.4 L183.6 214.3 L184.2 217.5 L184.8 221.6 L185.4 226.3 L186 231.4 L186.6 236.6 L187.2 241.6 L187.8 246.3 L188.4 250.2 L189 253.2 L189.6 254.9 L190.2 255.2 L190.8 254.1 L191.4 252 L192 248.9 L192.6 245.2 L193.2 241 L193.8 236.7 L194.4 232.4 L195 228.4 L195.6 224.9 L196.2 222.1 L196.8 220.3 L197.4 219.6 L198 220.2 L198.6 221.8 L199.2 224.3 L199.8 227.4 L200.4 231 L201 234.8 L201.6 238.6 L202.2 242.4 L202.8 245.7 L203.4 248.5 L204 250.6 L204.6 251.7 L205.2 251.8 L205.8 250.9 L206.4 249.2 L207 246.9 L207.6 244.2 L208.2 241.3 L208.8 238.2 L209.4 235.1 L210 232.3 L210.6 229.8 L211.2 227.8 L211.8 226.5 L212.4 226 L213 226.4 L213.6 227.5 L214.2 229.2 L214.8 231.4 L215.4 233.8 L216 236.5 L216.6 239.1 L217.2 241.7 L217.8 244 L218.4 246 L219 247.4 L219.6 248.2 L220.2 248.2 L220.8 247.6 L221.4 246.4 L222 244.8 L222.6 242.9 L223.2 240.8 L223.8 238.6 L224.4 236.3 L225 234.2 L225.6 232.3 L226.2 230.7 L226.8 229.5 L227.4 228.9 L228 228.9 L228.6 229.5 L229.2 230.6 L229.8 232.1 L230.4 233.9 L231 235.8 L231.6 237.9 L232.2 239.8 L232.8 241.6 L233.4 243.1 L234 244.2 L234.6 244.8 L235.2 244.8 L235.8 244.4 L236.4 243.6 L237 242.6 L237.6 241.3 L238.2 239.8 L238.8 238.4 L239.4 236.9 L240 235.4 L240.6 234.1 L241.2 233.1 L241.8 232.3 L242.4 231.9 L243 231.9 L243.6 232.3 L244.2 233 L244.8 234 L245.4 235.1 L246 236.4 L246.6 237.7 L247.2 239 L247.8 240.1 L248.4 241.1 L249 241.8 L249.6 242.2 L250.2 242.3 L250.8 242 L251.4 241.6 L252 241 L252.6 240.3 L253.2 239.5 L253.8 238.6 L254.4 237.8 L255 236.9 L255.6 236 L256.2 235.3 L256.8 234.7 L257.4 234.2 L258 233.9 L258.6 233.8 L259.2 234 L259.8 234.4 L260.4 235 L261 235.7 L261.6 236.6 L262.2 237.4 L262.8 238.2 L263.4 239 L264 239.6 L264.6 240.1 L265.2 240.3 L265.8 240.3 L266.4 240.1 L267 239.8 L267.6 239.5 L268.2 239 L268.8 238.5 L269.4 238 L270 237.4 L270.6 236.9 L271.2 236.4 L271.8 235.9 L272.4 235.5 L273 235.2 L273.6 235.1 L274.2 235 L274.8 235.1 L275.4 235.3 L276 235.5 L276.6 235.8 L277.2 236.2 L277.8 236.6 L278.4 237.1 L279 237.5 L279.6 238 L280.2 238.4 L280.8 238.7 L281.4 239 L282 239.2 L282.6 239.4 L283.2 239.4 L283.8 239.2 L284.4 238.9 L285 238.5 L285.6 238 L286.2 237.4 L286.8 236.9 L287.4 236.3 L288 235.7 L288.6 235.3 L289.2 234.9 L289.8 234.7 L290.4 234.6 L291 234.7 L291.6 235 L292.2 235.3 L292.8 235.8 L293.4 236.3 L294 236.9 L294.6 237.5 L295.2 238.1 L295.8 238.7 L296.4 239.3 L297 239.7 L297.6 240.1 L298.2 240.4 L298.8 240.6 L299.4 240.6 L300 240.3 L300.6 239.8 L301.2 239.1 L301.8 238.3 L302.4 237.4 L303 236.6 L303.6 235.7 L304.2 234.9 L304.8 234.2 L305.4 233.7 L306 233.4 L306.6 233.4 L307.2 233.7 L307.8 234.1 L308.4 234.8 L309 235.5 L309.6 236.4 L310.2 237.2 L310.8 238.1 L311.4 239 L312 239.7 L312.6 240.4 L313.2 240.8 L313.8 241.1 L314.4 241.1 L315 240.8 L315.6 240.2 L316.2 239.4 L316.8 238.5 L317.4 237.5 L318 236.5 L318.6 235.5 L319.2 234.5 L319.8 233.7 L320.4 233 L321 232.6 L321.6 232.4 L322.2 232.5 L322.8 233 L323.4 233.6 L324 234.4 L324.6 235.3 L325.2 236.2 L325.8 237.3 L326.4 238.2 L327 239.1 L327.6 239.9 L328.2 240.5 L328.8 241 L329.4 241.1 L330 240.9 L330.6 240.5 L331.2 239.7 L331.8 238.8 L332.4 237.8 L333 236.8 L333.6 235.7 L334.2 234.7 L334.8 233.8 L335.4 233 L336 232.6 L336.6 232.4 L337.2 232.5 L337.8 232.9 L338.4 233.5 L339 234.3 L339.6 235.1 L340.2 236 L340.8 237 L341.4 237.9 L342 238.7 L342.6 239.5 L343.2 240.1 L343.8 240.5 L344.4 240.6 L345 240.4 L345.6 240 L346.2 239.4 L346.8 238.5 L347.4 237.6 L348 236.6 L348.6 235.6 L349.2 234.7 L349.8 233.9 L350.4 233.2 L351 232.8 L351.6 232.6 L352.2 232.7 L352.8 233.1 L353.4 233.6 L354 234.2 L354.6 235 L355.2 235.8 L355.8 236.7 L356.4 237.5 L357 238.3 L357.6 238.9 L358.2 239.4 L358.8 239.8 L359.4 239.9 L360 239.7 L360.6 239.3 L361.2 238.6 L361.8 237.8 L362.4 236.9 L363 235.9 L363.6 235 L364.2 234.2 L364.8 233.5 L365.4 233.1 L366 232.9 L366.6 233 L367.2 233.3 L367.8 233.8 L368.4 234.4 L369 235.1 L369.6 235.8 L370.2 236.6 L370.8 237.3 L371.4 238 L372 238.6 L372.6 239 L373.2 239.3 L373.8 239.4 L374.4 239.2 L375 238.9 L375.6 238.3 L376.2 237.7 L376.8 236.9 L377.4 236.1 L378 235.4 L378.6 234.7 L379.2 234.1 L379.8 233.7 L380.4 233.4 L381 233.4 L381.6 233.6 L382.2 234 L382.8 234.5 L383.4 235.1 L384 235.7 L384.6 236.4 L385.2 237 L385.8 237.6 L386.4 238.2 L387 238.6 L387.6 238.8 L388.2 238.9 L388.8 238.7 L389.4 238.4 L390 237.9 L390.6 237.3 L391.2 236.6 L391.8 235.9 L392.4 235.2 L393 234.6 L393.6 234.1 L394.2 233.7 L394.8 233.5 L395.4 233.5 L396 233.8 L396.6 234.1 L397.2 234.6 L397.8 235.1 L398.4 235.7 L399 236.3 L399.6 236.8 L400.2 237.3 L400.8 237.7 L401.4 238 L402 238.1 L402.6 238 L403.2 237.9 L403.8 237.6 L404.4 237.3 L405 237 L405.6 236.6 L406.2 236.2 L406.8 235.8 L407.4 235.5 L408 235.1 L408.6 234.9 L409.2 234.7 L409.8 234.6 L410.4 234.6 L411 234.8 L411.6 235 L412.2 235.3 L412.8 235.6 L413.4 235.9 L414 236.3 L414.6 236.6 L415.2 236.9 L415.8 237.2 L416.4 237.3 L417 237.4 L417.6 237.4 L418.2 237.3 L418.8 237.1 L419.4 236.9 L420 236.7 L420.6 236.5 L421.2 236.2 L421.8 236 L422.4 235.8 L423 235.6 L423.6 235.5 L424.2 235.4 L424.8 235.4 L425.4 235.4 L426 235.5 L426.6 235.6 L427.2 235.7 L427.8 235.8 L428.4 235.9 L429 236 L429.6 236.1 L430.2 236.2 L430.8 236.3 L431.4 236.4 L432 236.4 L432.6 236.4 L433.2 236.4 L433.8 236.3 L434.4 236.2 L435 236.1 L435.6 236 L436.2 235.9 L436.8 235.8 L437.4 235.7 L438 235.6 L438.6 235.5 L439.2 235.4 L439.8 235.4 L440.4 235.4 L441 235.5 L441.6 235.5 L442.2 235.6 L442.8 235.7 L443.4 235.9 L444 236 L444.6 236.1 L445.2 236.2 L445.8 236.4 L446.4 236.5 L447 236.5 L447.6 236.6 L448.2 236.6 L448.8 236.6 L449.4 236.6 L450 236.5 L450.6 236.4 L451.2 236.4 L451.8 236.3 L452.4 236.2 L453 236.1 L453.6 236 L454.2 236 L454.8 235.9 L455.4 235.8 L456 235.8 L456.6 235.8 L457.2 235.8 L457.8 235.8 L458.4 235.9 L459 235.9 L459.6 236 L460.2 236 L460.8 236.1 L461.4 236.1 L462 236.2 L462.6 236.2 L463.2 236.3 L463.8 236.3 L464.4 236.4 L465 236.4 L465.6 236.4 L466.2 236.4 L466.8 236.4 L467.4 236.4 L468 236.4 L468.6 236.4 L469.2 236.4 L469.8 236.4 L470.4 236.3 L471 236.3 L471.6 236.3 L472.2 236.3 L472.8 236.3 L473.4 236.3 L474 236.3 L474.6 236.3 L475.2 236.3 L475.8 236.3 L476.4 236.3 L477 236.4 L477.6 236.4 L478.2 236.4 L478.8 236.4 L479.4 236.5 L480 236.5 L480.6 236.5 L481.2 236.5 L481.8 236.5 L482.4 236.5 L483 236.4 L483.6 236.4 L484.2 236.4 L484.8 236.3 L485.4 236.2 L486 236.2 L486.6 236.1 L487.2 236 L487.8 236 L488.4 236 L489 235.9 L489.6 235.9 L490.2 235.9 L490.8 235.9 L491.4 236 L492 236.1 L492.6 236.1 L493.2 236.2 L493.8 236.4 L494.4 236.5 L495 236.6 L495.6 236.7 L496.2 236.8 L496.8 236.8 L497.4 236.9 L498 236.9 L498.6 236.9 L499.2 236.9 L499.8 236.8 L500.4 236.7 L501 236.6 L501.6 236.5 L502.2 236.4 L502.8 236.4 L503.4 236.3 L504 236.2 L504.6 236.2 L505.2 236.2 L505.8 236.2 L506.4 236.3 L507 236.4 L507.6 236.4 L508.2 236.5 L508.8 236.6 L509.4 236.7 L510 236.7 L510.6 236.8 L511.2 236.8 L511.8 236.8 L512.4 236.8 L513 236.7 L513.6 236.6 L514.2 236.6 L514.8 236.5 L515.4 236.4 L516 236.3 L516.6 236.2 L517.2 236.1 L517.8 236 L518.4 235.9 L519 235.8 L519.6 235.8 L520.2 235.8 L520.8 235.8 L521.4 235.9 L522 236 L522.6 236.2 L523.2 236.3 L523.8 236.5 L524.4 236.7 L525 236.8 L525.6 237 L526.2 237.1 L526.8 237.3 L527.4 237.3 L528 237.4 L528.6 237.4 L529.2 237.4 L529.8 237.3 L530.4 237.2 L531 237.1 L531.6 237 L532.2 236.9 L532.8 236.8 L533.4 236.7 L534 236.6 L534.6 236.6 L535.2 236.6 L535.8 236.6 L536.4 236.7 L537 236.8 L537.6 236.9 L538.2 237 L538.8 237.2 L539.4 237.3 L540 237.4 L540.6 237.6 L541.2 237.7 L541.8 237.8 L542.4 237.9 L543 237.9 L543.6 237.9 L544.2 237.8 L544.8 237.7 L545.4 237.6 L546 237.5 L546.6 237.3 L547.2 237.2 L547.8 237 L548.4 236.9 L549 236.9 L549.6 236.9 L550.2 237 L550.8 237.1 L551.4 237.2 L552 237.3 L552.6 237.5 L553.2 237.6 L553.8 237.8 L554.4 237.9 L555 238.1 L555.6 238.2 L556.2 238.4 L556.8 238.5 L557.4 238.6 L558 238.6 L558.6 238.6 L559.2 238.5 L559.8 238.4 L560.4 238.3 L561 238.2 L561.6 238 L562.2 237.8 L562.8 237.7 L563.4 237.6 L564 237.5 L564.6 237.4 L565.2 237.4 L565.8 237.5 L566.4 237.6 L567 237.8 L567.6 238 L568.2 238.2 L568.8 238.5 L569.4 238.7 L570 238.9 L570.6 239 L571.2 239.1 L571.8 239.1 L572.4 239.1 L573 239 L573.6 238.8 L574.2 238.7 L574.8 238.5 L575.4 238.4 L576 238.2 L576.6 238.1 L577.2 238 L577.8 237.9 L578.4 237.9 L579 238 L579.6 238.1 L580.2 238.2 L580.8 238.4 L581.4 238.6 L582 238.8 L582.6 239 L583.2 239.2 L583.8 239.3 L584.4 239.4 L585 239.4 L585.6 239.4 L586.2 239.3 L586.8 239.2 L587.4 239.1 L588 239 L588.6 238.9 L589.2 238.8 L589.8 238.7 L590.4 238.7 L591 238.6 L591.6 238.6 L592.2 238.6 L592.8 238.6 L593.4 238.6 L594 238.6 L594.6 238.7 L595.2 238.7 L595.8 238.8 L596.4 238.8 L597 238.9 L597 238.9" fill="none" stroke="#808080" stroke-width="4.0" stroke-linejoin="round" stroke-linecap="round" />
<path d="M160.8 174.1 L161.4 181.6 L162 187.5 L162.6 192 L163.2 195 L163.8 196.6 L164.4 196.6 L165 193.2 L165.6 186.4 L166.2 177.5 L166.8 167.3 L167.4 156.9 L168 147.5 L168.6 139.9 L169.2 135.2 L169.8 134.3 L170.4 135.8 L171 138.8 L171.6 143.1 L172.2 148.3 L172.8 154.3 L173.4 160.7 L174 167.4 L174.6 173.9 L175.2 180.1 L175.8 185.6 L176.4 190.2 L177 193.7 L177.6 195.7 L178.2 195.9 L178.8 193.4 L179.4 188.5 L180 181.9 L180.6 174.1 L181.2 165.8 L181.8 157.6 L182.4 150.3 L183 144.4 L183.6 140.7 L184.2 139.6 L184.8 140.9 L185.4 143.7 L186 147.9 L186.6 153.1 L187.2 159 L187.8 165.3 L188.4 171.8 L189 178 L189.6 183.9 L190.2 188.9 L190.8 192.9 L191.4 195.5 L192 196.4 L192.6 195.2 L193.2 192 L193.8 187.3 L194.4 181.3 L195 174.8 L195.6 167.9 L196.2 161.4 L196.8 155.4 L197.4 150.7 L198 147.5 L198.6 146.3 L199.2 147.1 L199.8 149.3 L200.4 152.7 L201 156.9 L201.6 161.8 L202.2 167.1 L202.8 172.5 L203.4 177.7 L204 182.5 L204.6 186.7 L205.2 189.8 L205.8 191.8 L206.4 192.4 L207 191.2 L207.6 188.5 L208.2 184.6 L208.8 179.9 L209.4 174.7 L210 169.4 L210.6 164.4 L211.2 159.9 L211.8 156.4 L212.4 154.1 L213 153.5 L213.6 154.4 L214.2 156.3 L214.8 159.1 L215.4 162.6 L216 166.5 L216.6 170.5 L217.2 174.6 L217.8 178.4 L218.4 181.8 L219 184.5 L219.6 186.3 L220.2 186.9 L220.8 186.2 L221.4 184.4 L222 181.7 L222.6 178.4 L223.2 174.7 L223.8 170.9 L224.4 167.4 L225 164.2 L225.6 161.8 L226.2 160.3 L226.8 160 L227.4 160.6 L228 161.9 L228.6 163.6 L229.2 165.6 L229.8 167.9 L230.4 170.4 L231 172.8 L231.6 175 L232.2 177.1 L232.8 178.7 L233.4 179.8 L234 180.3 L234.6 179.8 L235.2 178.1 L235.8 175.6 L236.4 172.6 L237 169.5 L237.6 166.7 L238.2 164.4 L238.8 163.1 L239.4 162.9 L240 163.2 L240.6 163.6 L241.2 164.1 L241.8 164.4 L242.4 164.8 L243 165.2 L243.6 165.7 L244.2 166.6 L244.8 168.4 L245.4 170.3 L246 172.1 L246.6 174 L247.2 175.8 L247.8 177.1 L248.4 177.3 L249 176.2 L249.6 174 L250.2 171.1 L250.8 168.1 L251.4 165.2 L252 162.8 L252.6 161.5 L253.2 161.6 L253.8 163.3 L254.4 165.5 L255 166.7 L255.6 167.2 L256.2 167.5 L256.8 167.7 L257.4 168.1 L258 168.9 L258.6 170.3 L259.2 171.9 L259.8 173.2 L260.4 174.5 L261 175.6 L261.6 176.3 L262.2 176.2 L262.8 175 L263.4 172.8 L264 170.1 L264.6 167.2 L265.2 164.5 L265.8 162.2 L266.4 160.8 L267 160.6 L267.6 161.8 L268.2 163.8 L268.8 165.8 L269.4 166.9 L270 167.5 L270.6 167.9 L271.2 168.4 L271.8 168.8 L272.4 169.5 L273 170.6 L273.6 172 L274.2 173.2 L274.8 174.3 L275.4 175.5 L276 176.3 L276.6 176.2 L277.2 175.1 L277.8 173.1 L278.4 170.5 L279 167.8 L279.6 165.1 L280.2 162.9 L280.8 161.4 L281.4 161 L282 161.3 L282.6 161.9 L283.2 162.7 L283.8 163.9 L284.4 165.2 L285 166.6 L285.6 168 L286.2 169.5 L286.8 170.9 L287.4 172.2 L288 173.4 L288.6 174.3 L289.2 175 L289.8 175.3 L290.4 175.1 L291 174.3 L291.6 172.9 L292.2 171.2 L292.8 169.2 L293.4 167.3 L294 165.4 L294.6 163.9 L295.2 162.9 L295.8 162.5 L296.4 162.7 L297 163.2 L297.6 163.9 L298.2 164.8 L298.8 166 L299.4 167.2 L300 168.4 L300.6 169.7 L301.2 170.8 L301.8 171.9 L302.4 172.8 L303 173.5 L303.6 174 L304.2 174.1 L304.8 173.8 L305.4 173 L306 171.9 L306.6 170.6 L307.2 169.2 L307.8 167.8 L308.4 166.5 L309 165.4 L309.6 164.5 L310.2 164.1 L310.8 164.2 L311.4 164.5 L312 165 L312.6 165.7 L313.2 166.6 L313.8 167.5 L314.4 168.5 L315 169.5 L315.6 170.4 L316.2 171.3 L316.8 172 L317.4 172.5 L318 172.8 L318.6 172.8 L319.2 172.4 L319.8 171.7 L320.4 170.8 L321 169.8 L321.6 168.7 L322.2 167.6 L322.8 166.6 L323.4 165.7 L324 165 L324.6 164.6 L325.2 164.6 L325.8 165 L326.4 165.5 L327 166.3 L327.6 167.2 L328.2 168.2 L328.8 169.2 L329.4 170.1 L330 171 L330.6 171.7 L331.2 172.2 L331.8 172.4 L332.4 172.2 L333 171.7 L333.6 170.9 L334.2 169.8 L334.8 168.7 L335.4 167.5 L336 166.5 L336.6 165.5 L337.2 164.9 L337.8 164.6 L338.4 164.7 L339 165 L339.6 165.6 L340.2 166.2 L340.8 167 L341.4 167.9 L342 168.8 L342.6 169.7 L343.2 170.5 L343.8 171.2 L344.4 171.8 L345 172.2 L345.6 172.4 L346.2 172.2 L346.8 171.6 L347.4 170.6 L348 169.4 L348.6 168 L349.2 166.6 L349.8 165.2 L350.4 164 L351 163.2 L351.6 162.7 L352.2 162.6 L352.8 163 L353.4 163.6 L354 164.4 L354.6 165.4 L355.2 166.6 L355.8 167.7 L356.4 168.9 L357 170.1 L357.6 171.2 L358.2 172.1 L358.8 172.7 L359.4 173.2 L360 173.3 L360.6 172.9 L361.2 172 L361.8 170.8 L362.4 169.3 L363 167.7 L363.6 166.1 L364.2 164.5 L364.8 163.3 L365.4 162.3 L366 161.8 L366.6 161.9 L367.2 162.3 L367.8 163 L368.4 163.9 L369 165 L369.6 166.2 L370.2 167.5 L370.8 168.8 L371.4 170.1 L372 171.3 L372.6 172.3 L373.2 173.1 L373.8 173.7 L374.4 173.9 L375 173.7 L375.6 173 L376.2 171.9 L376.8 170.5 L377.4 168.9 L378 167.2 L378.6 165.5 L379.2 164 L379.8 162.7 L380.4 161.8 L381 161.3 L381.6 161.4 L382.2 161.9 L382.8 162.7 L383.4 163.8 L384 165 L384.6 166.4 L385.2 167.9 L385.8 169.3 L386.4 170.6 L387 171.8 L387.6 172.7 L388.2 173.3 L388.8 173.5 L389.4 173.3 L390 172.6 L390.6 171.5 L391.2 170.3 L391.8 168.8 L392.4 167.3 L393 165.8 L393.6 164.4 L394.2 163.2 L394.8 162.3 L395.4 161.7 L396 161.6 L396.6 162 L397.2 162.7 L397.8 163.6 L398.4 164.8 L399 166.1 L399.6 167.4 L400.2 168.7 L400.8 169.9 L401.4 170.9 L402 171.7 L402.6 172.2 L403.2 172.3 L403.8 172 L404.4 171.3 L405 170.5 L405.6 169.4 L406.2 168.2 L406.8 167.1 L407.4 165.9 L408 164.8 L408.6 164 L409.2 163.3 L409.8 163 L410.4 163.1 L411 163.4 L411.6 163.9 L412.2 164.6 L412.8 165.4 L413.4 166.3 L414 167.2 L414.6 168.1 L415.2 168.9 L415.8 169.6 L416.4 170.2 L417 170.5 L417.6 170.6 L418.2 170.5 L418.8 170.2 L419.4 169.7 L420 169.1 L420.6 168.5 L421.2 167.9 L421.8 167.2 L422.4 166.6 L423 166 L423.6 165.5 L424.2 165.2 L424.8 165.1 L425.4 165.2 L426 165.4 L426.6 165.7 L427.2 166.1 L427.8 166.6 L428.4 167.1 L429 167.6 L429.6 168.1 L430.2 168.5 L430.8 168.8 L431.4 168.9 L432 168.9 L432.6 168.8 L433.2 168.6 L433.8 168.4 L434.4 168.1 L435 167.8 L435.6 167.5 L436.2 167.2 L436.8 166.9 L437.4 166.6 L438 166.5 L438.6 166.3 L439.2 166.3 L439.8 166.3 L440.4 166.4 L441 166.6 L441.6 166.8 L442.2 167 L442.8 167.2 L443.4 167.4 L444 167.5 L444.6 167.7 L445.2 167.8 L445.8 167.8 L446.4 167.8 L447 167.8 L447.6 167.8 L448.2 167.7 L448.8 167.7 L449.4 167.6 L450 167.6 L450.6 167.6 L451.2 167.5 L451.8 167.4 L452.4 167.4 L453 167.3 L453.6 167.3 L454.2 167.2 L454.8 167.2 L455.4 167.1 L456 167 L456.6 166.9 L457.2 166.8 L457.8 166.7 L458.4 166.6 L459 166.6 L459.6 166.5 L460.2 166.5 L460.8 166.4 L461.4 166.4 L462 166.4 L462.6 166.5 L463.2 166.7 L463.8 166.9 L464.4 167.1 L465 167.3 L465.6 167.6 L466.2 167.9 L466.8 168.1 L467.4 168.3 L468 168.5 L468.6 168.6 L469.2 168.6 L469.8 168.5 L470.4 168.4 L471 168.1 L471.6 167.9 L472.2 167.5 L472.8 167.2 L473.4 166.9 L474 166.5 L474.6 166.3 L475.2 166 L475.8 165.9 L476.4 165.8 L477 165.8 L477.6 166 L478.2 166.2 L478.8 166.4 L479.4 166.7 L480 167.1 L480.6 167.4 L481.2 167.7 L481.8 168 L482.4 168.3 L483 168.5 L483.6 168.6 L484.2 168.6 L484.8 168.5 L485.4 168.2 L486 167.9 L486.6 167.5 L487.2 167.1 L487.8 166.7 L488.4 166.3 L489 165.9 L489.6 165.6 L490.2 165.5 L490.8 165.4 L491.4 165.5 L492 165.7 L492.6 166 L493.2 166.3 L493.8 166.7 L494.4 167.1 L495 167.5 L495.6 167.9 L496.2 168.3 L496.8 168.6 L497.4 168.8 L498 168.9 L498.6 168.9 L499.2 168.7 L499.8 168.4 L500.4 168.1 L501 167.7 L501.6 167.2 L502.2 166.8 L502.8 166.4 L503.4 166 L504 165.7 L504.6 165.5 L505.2 165.4 L505.8 165.5 L506.4 165.7 L507 165.9 L507.6 166.3 L508.2 166.7 L508.8 167.1 L509.4 167.5 L510 167.9 L510.6 168.3 L511.2 168.6 L511.8 168.8 L512.4 168.9 L513 168.9 L513.6 168.7 L514.2 168.5 L514.8 168.3 L515.4 168 L516 167.6 L516.6 167.3 L517.2 167 L517.8 166.7 L518.4 166.5 L519 166.4 L519.6 166.3 L520.2 166.3 L520.8 166.5 L521.4 166.7 L522 166.9 L522.6 167.2 L523.2 167.5 L523.8 167.8 L524.4 168.1 L525 168.3 L525.6 168.5 L526.2 168.6 L526.8 168.6 L527.4 168.5 L528 168.4 L528.6 168.1 L529.2 167.9 L529.8 167.6 L530.4 167.3 L531 167 L531.6 166.8 L532.2 166.5 L532.8 166.4 L533.4 166.3 L534 166.3 L534.6 166.4 L535.2 166.6 L535.8 166.9 L536.4 167.2 L537 167.5 L537.6 167.8 L538.2 168.1 L538.8 168.4 L539.4 168.6 L540 168.8 L540.6 168.9 L541.2 168.9 L541.8 168.7 L542.4 168.5 L543 168.2 L543.6 167.9 L544.2 167.5 L544.8 167.2 L545.4 166.9 L546 166.6 L546.6 166.4 L547.2 166.3 L547.8 166.3 L548.4 166.4 L549 166.7 L549.6 166.9 L550.2 167.2 L550.8 167.6 L551.4 167.9 L552 168.3 L552.6 168.6 L553.2 168.8 L553.8 169 L554.4 169.1 L555 169.1 L555.6 168.9 L556.2 168.6 L556.8 168.3 L557.4 167.9 L558 167.4 L558.6 167 L559.2 166.6 L559.8 166.2 L560.4 166 L561 165.8 L561.6 165.8 L562.2 166 L562.8 166.2 L563.4 166.6 L564 167 L564.6 167.5 L565.2 168 L565.8 168.5 L566.4 168.9 L567 169.3 L567.6 169.6 L568.2 169.8 L568.8 169.8 L569.4 169.7 L570 169.4 L570.6 169 L571.2 168.6 L571.8 168.1 L572.4 167.6 L573 167.1 L573.6 166.6 L574.2 166.3 L574.8 166 L575.4 165.8 L576 165.8 L576.6 166 L577.2 166.3 L577.8 166.7 L578.4 167.2 L579 167.8 L579.6 168.3 L580.2 168.9 L580.8 169.4 L581.4 169.8 L582 170.1 L582.6 170.3 L583.2 170.3 L583.8 170.1 L584.4 169.8 L585 169.4 L585.6 169 L586.2 168.5 L586.8 168 L587.4 167.5 L588 167 L588.6 166.7 L589.2 166.4 L589.8 166.3 L590.4 166.3 L591 166.5 L591.6 166.8 L592.2 167.1 L592.8 167.5 L593.4 167.9 L594 168.4 L594.6 168.8 L595.2 169.2 L595.8 169.5 L596.4 169.7 L597 169.9 L597.6 169.9 L598.2 169.8 L598.8 169.5 L599.4 169.2 L600 168.8 L600.6 168.4 L601.2 168 L601.8 167.6 L602.4 167.3 L603 167 L603.6 166.8 L604.2 166.8 L604.8 166.9 L605.4 167 L606 167.3 L606.6 167.5 L607.2 167.8 L607.8 168.1 L608.4 168.4 L609 168.7 L609.6 169 L610.2 169.2 L610.8 169.3 L611.4 169.4 L612 169.4 L612.6 169.2 L613.2 169 L613.8 168.8 L614.4 168.5 L615 168.2 L615.6 167.9 L616.2 167.6 L616.8 167.4 L617.4 167.2 L618 167.1 L618.6 167.1 L619.2 167.2 L619.8 167.3 L620.4 167.5 L621 167.7 L621.6 168 L622.2 168.2 L622.8 168.4 L623.4 168.6 L624 168.8 L624.6 168.9 L625.2 168.9 L625.8 168.9 L626.4 168.8 L627 168.7 L627.6 168.5 L628.2 168.2 L628.8 168 L629.4 167.7 L629.8 167.5" fill="none" stroke="#ff0000" stroke-width="4.0" stroke-linejoin="round" stroke-linecap="round" />
</g>
<g clip-path="url(#cb)">
<path d="M134.2 660.3 L134.7 660.2 L135.2 660.1 L135.7 660 L136.2 660 L136.7 659.9 L137.2 659.9 L137.7 659.8 L138.2 659.8 L138.7 659.7 L139.2 659.6 L139.7 659.5 L140.2 659.4 L140.7 659.3 L141.2 659.2 L141.7 659.2 L142.2 659.1 L142.7 659 L143.2 659 L143.7 658.9 L144.2 658.9 L144.7 658.8 L145.2 658.7 L145.7 658.6 L146.2 658.4 L146.7 658.3 L147.2 658.3 L147.7 658.2 L148.2 658.1 L148.7 658.1 L149.2 658 L149.7 657.9 L150.2 657.8 L150.7 657.7 L151.2 657.6 L151.7 657.5 L152.2 657.4 L152.7 657.3 L153.2 657.2 L153.7 657.1 L154.2 657 L154.7 657 L155.2 656.9 L155.7 656.8 L156.2 656.7 L156.7 656.6 L157.2 656.4 L157.7 656.3 L158.2 656.2 L158.7 656.1 L159.2 656 L159.7 655.9 L160.2 655.8 L160.7 655.8 L161.2 655.7 L161.7 655.6 L162.2 655.4 L162.7 655.3 L163.2 655.2 L163.7 655 L164.2 654.9 L164.7 654.8 L165.2 654.8 L165.7 654.7 L166.2 654.6 L166.7 654.5 L167.2 654.4 L167.7 654.3 L168.2 654.2 L168.7 654 L169.2 653.9 L169.7 653.8 L170.2 653.7 L170.7 653.6 L171.2 653.5 L171.7 653.4 L172.2 653.4 L172.7 653.3 L173.2 653.2 L173.7 653 L174.2 652.9 L174.7 652.8 L175.2 652.6 L175.7 652.5 L176.2 652.4 L176.7 652.3 L177.2 652.3 L177.7 652.2 L178.2 652.1 L178.7 652 L179.2 651.9 L179.7 651.7 L180.2 651.6 L180.7 651.5 L181.2 651.3 L181.7 651.2 L182.2 651.1 L182.7 651.1 L183.2 651 L183.7 650.9 L184.2 650.8 L184.7 650.7 L185.2 650.6 L185.7 650.5 L186.2 650.3 L186.7 650.2 L187.2 650.1 L187.7 650 L188.2 649.9 L188.7 649.9 L189.2 649.8 L189.7 649.7 L190.2 649.6 L190.7 649.5 L191.2 649.4 L191.7 649.3 L192.2 649.2 L192.7 649.1 L193.2 649 L193.7 648.9 L194.2 648.8 L194.7 648.8 L195.2 648.7 L195.7 648.6 L196.2 648.5 L196.7 648.4 L197.2 648.3 L197.7 648.2 L198.2 648.1 L198.7 648 L199.2 647.9 L199.7 647.9 L200.2 647.8 L200.7 647.7 L201.2 647.7 L201.7 647.6 L202.2 647.5 L202.7 647.3 L203.2 647.2 L203.7 647.1 L204.2 647 L204.7 647 L205.2 646.9 L205.7 646.8 L206.2 646.8 L206.7 646.7 L207.2 646.6 L207.7 646.5 L208.2 646.4 L208.7 646.3 L209.2 646.2 L209.7 646.1 L210.2 646 L210.7 645.9 L211.2 645.9 L211.7 645.8 L212.2 645.7 L212.7 645.7 L213.2 645.6 L213.7 645.5 L214.2 645.4 L214.7 645.3 L215.2 645.1 L215.7 645.1 L216.2 645 L216.7 644.9 L217.2 644.9 L217.7 644.8 L218.2 644.7 L218.7 644.7 L219.2 644.6 L219.7 644.5 L220.2 644.3 L220.7 644.2 L221.2 644.1 L221.7 644.1 L222.2 644 L222.7 643.9 L223.2 643.9 L223.7 643.8 L224.2 643.7 L224.7 643.7 L225.2 643.6 L225.7 643.4 L226.2 643.3 L226.7 643.2 L227.2 643.2 L227.7 643.1 L228.2 643 L228.7 643 L229.2 642.9 L229.7 642.9 L230.2 642.8 L230.7 642.7 L231.2 642.6 L231.7 642.5 L232.2 642.4 L232.7 642.3 L233.2 642.3 L233.7 642.2 L234.2 642.2 L234.7 642.1 L235.2 642.1 L235.7 642 L236.2 641.9 L236.7 641.8 L237.2 641.7 L237.7 641.6 L238.2 641.5 L238.7 641.4 L239.2 641.4 L239.7 641.3 L240.2 641.3 L240.7 641.3 L241.2 641.3 L241.7 641.2 L242.2 641 L242.7 640.8 L243.2 640.7 L243.7 640.5 L244.2 640.4 L244.7 640.3 L245.2 640.3 L245.7 640.3 L246.2 640.3 L246.7 640.2 L247.2 640.1 L247.7 639.9 L248.2 639.7 L248.7 639.5 L249.2 639.3 L249.7 639.1 L250.2 639 L250.7 638.9 L251.2 638.9 L251.7 638.9 L252.2 638.8 L252.7 638.7 L253.2 638.5 L253.7 638.3 L254.2 638.1 L254.7 637.9 L255.2 637.7 L255.7 637.6 L256.2 637.5 L256.7 637.5 L257.2 637.5 L257.7 637.5 L258.2 637.4 L258.7 637.3 L259.2 637.2 L259.7 637 L260.2 636.9 L260.7 636.7 L261.2 636.6 L261.7 636.5 L262.2 636.5 L262.7 636.5 L263.2 636.5 L263.7 636.5 L264.2 636.5 L264.7 636.4 L265.2 636.3 L265.7 636.1 L266.2 636 L266.7 635.9 L267.2 635.8 L267.7 635.8 L268.2 635.9 L268.7 635.9 L269.2 636 L269.7 636 L270.2 636 L270.7 635.9 L271.2 635.8 L271.7 635.7 L272.2 635.6 L272.7 635.5 L273.2 635.5 L273.7 635.5 L274.2 635.6 L274.7 635.6 L275.2 635.6 L275.7 635.6 L276.2 635.5 L276.7 635.4 L277.2 635.3 L277.7 635.1 L278.2 635 L278.7 635 L279.2 635 L279.7 635 L280.2 635 L280.7 635.1 L281.2 635 L281.7 634.9 L282.2 634.8 L282.7 634.6 L283.2 634.5 L283.7 634.3 L284.2 634.2 L284.7 634.1 L285.2 634.1 L285.7 634 L286.2 634 L286.7 633.8 L287.2 633.6 L287.7 633.3 L288.2 633 L288.7 632.6 L289.2 632.2 L289.7 631.9 L290.2 631.6 L290.7 631.4 L291.2 631.2 L291.7 631 L292.2 630.8 L292.7 630.6 L293.2 630.4 L293.7 630.1 L294.2 629.7 L294.7 629.4 L295.2 629 L295.7 628.7 L296.2 628.5 L296.7 628.3 L297.2 628.1 L297.7 628 L298.2 627.8 L298.7 627.5 L299.2 627.2 L299.7 626.9 L300.2 626.6 L300.7 626.4 L301.2 626.2 L301.7 626.1 L302.2 626 L302.7 626 L303.2 626.1 L303.7 626.1 L304.2 626.2 L304.7 626.1 L305.2 626 L305.7 625.9 L306.2 625.8 L306.7 625.8 L307.2 625.7 L307.7 625.8 L308.2 625.9 L308.7 626 L309.2 626 L309.7 626.1 L310.2 626.1 L310.7 626 L311.2 626 L311.7 626 L312.2 626 L312.7 626 L313.2 626.1 L313.7 626.3 L314.2 626.5 L314.7 626.6 L315.2 626.8 L315.7 626.8 L316.2 626.8 L316.7 626.8 L317.2 626.6 L317.7 626.5 L318.2 626.3 L318.7 626.2 L319.2 626.1 L319.7 626.1 L320.2 626 L320.7 625.9 L321.2 625.8 L321.7 625.6 L322.2 625.5 L322.7 625.3 L323.2 625.1 L323.7 625 L324.2 624.9 L324.7 625 L325.2 625.1 L325.7 625.2 L326.2 625.4 L326.7 625.5 L327.2 625.6 L327.7 625.6 L328.2 625.6 L328.7 625.5 L329.2 625.5 L329.7 625.5 L330.2 625.6 L330.7 625.6 L331.2 625.8 L331.7 625.9 L332.2 626 L332.7 626 L333.2 626 L333.7 626 L334.2 625.9 L334.7 625.8 L335.2 625.8 L335.7 625.8 L336.2 626 L336.7 626.2 L337.2 626.6 L337.7 627 L338.2 627.4 L338.7 627.8 L339.2 628.1 L339.7 628.5 L340.2 628.8 L340.7 629.2 L341.2 629.6 L341.7 630 L342.2 630.4 L342.7 630.9 L343.2 631.4 L343.7 631.9 L344.2 632.3 L344.7 632.7 L345.2 633.1 L345.7 633.4 L346.2 633.8 L346.7 634.2 L347.2 634.7 L347.7 635.3 L348.2 636 L348.7 636.7 L349.2 637.5 L349.7 638.2 L350.2 639 L350.7 639.7 L351.2 640.5 L351.7 641.2 L352.2 642 L352.7 642.9 L353.2 643.8 L353.7 644.8 L354.2 645.8 L354.7 646.8 L355.2 647.8 L355.7 648.7 L356.2 649.6 L356.7 650.5 L357.2 651.4 L357.7 652.3 L358.2 653.3 L358.7 654.3 L359.2 655.4 L359.7 656.6 L360.2 657.7 L360.7 658.9 L361.2 660 L361.7 661 L362.2 662.1 L362.7 663.1 L363.2 664.1 L363.7 665.1 L364.2 666.2 L364.7 667.4 L365.2 668.6 L365.7 669.9 L366.2 671.1 L366.7 672.4 L367.2 673.6 L367.7 674.7 L368.2 675.8 L368.7 676.9 L369.2 678.1 L369.7 679.2 L370.2 680.4 L370.7 681.7 L371.2 683 L371.7 684.4 L372.2 685.8 L372.7 687.2 L373.2 688.7 L373.7 690.2 L374.2 692 L374.7 693.8 L375.2 695.8 L375.7 697.7 L376.2 699.6 L376.7 701.3 L377.2 702.9 L377.7 704.4 L378.2 705.9 L378.7 707.3 L379.2 708.6 L379.7 709.9 L380.2 711 L380.7 712.1 L381.2 713.2 L381.7 714.3 L382.1 715.1 L382.5 716.2 L383 717.3 L383.5 718.4 L384 719.5 L384.5 720.6 L385 721.9 L385.5 723.2 L386 724.6 L386.5 726.1 L387 727.6 L387.5 729.2 L388 730.9 L388.5 732.8 L389 734.7 L389.5 736.7 L390 738.5 L390.5 740.3 L391 741.8 L391.5 743.3 L392 744.7 L392.5 746.1 L393 747.5 L393.5 748.8 L394 750.1 L394.5 751.3 L395 752.4 L395.5 753.6 L396 754.7 L396.5 755.8 L397 756.9 L397.5 758.1 L398 759.4 L398.5 760.6 L399 761.9 L399.5 763.1 L400 764.3 L400.5 765.4 L401 766.4 L401.5 767.4 L402 768.4 L402.5 769.5 L403 770.5 L403.5 771.6 L404 772.8 L404.5 773.9 L405 775.1 L405.5 776.2 L406 777.2 L406.5 778.2 L407 779.1 L407.5 780 L408 780.9 L408.5 781.8 L409 782.7 L409.5 783.7 L410 784.7 L410.5 785.7 L411 786.7 L411.5 787.6 L412 788.5 L412.5 789.3 L413 790 L413.5 790.8 L414 791.5 L414.5 792.3 L415 793 L415.5 793.8 L416 794.5 L416.5 795.2 L417 795.8 L417.5 796.3 L418 796.7 L418.5 797.1 L419 797.4 L419.5 797.8 L420 798.2 L420.5 798.6 L421 799.1 L421.5 799.6 L422 800.1 L422.5 800.5 L423 800.9 L423.5 801.3 L424 801.7 L424.5 802 L425 802.4 L425.5 802.7 L426 803.1 L426.5 803.5 L427 803.9 L427.5 804.3 L428 804.5 L428.5 804.7 L429 804.7 L429.5 804.7 L430 804.6 L430.5 804.5 L431 804.5 L431.5 804.5 L432 804.5 L432.5 804.6 L433 804.7 L433.5 804.9 L434 804.9 L434.5 805 L435 805 L435.5 805 L436 804.9 L436.5 804.9 L437 804.9 L437.5 805 L438 805.1 L438.5 805.3 L439 805.4 L439.5 805.5 L440 805.6 L440.5 805.5 L441 805.4 L441.5 805.2 L442 805 L442.5 804.9 L443 804.7 L443.5 804.6 L444 804.5 L444.5 804.4 L445 804.4 L445.5 804.3 L446 804.2 L446.5 804 L447 803.9 L447.5 803.7 L448 803.7 L448.5 803.7 L449 803.7 L449.5 803.9 L450 804 L450.5 804.2 L451 804.4 L451.5 804.5 L452 804.5 L452.5 804.5 L453 804.5 L453.5 804.5 L454 804.4 L454.5 804.4 L455 804.5 L455.5 804.5 L456 804.6 L456.5 804.7 L457 804.8 L457.5 804.7 L458 804.7 L458.5 804.6 L459 804.5 L459.5 804.4 L460 804.3 L460.5 804.4 L461 804.4 L461.5 804.5 L462 804.5 L462.5 804.4 L463 804.3 L463.5 804.1 L464 803.9 L464.5 803.6 L465 803.3 L465.5 803 L466 802.7 L466.5 802.5 L467 802.4 L467.5 802.2 L468 802 L468.5 801.8 L469 801.5 L469.5 801.1 L470 800.8 L470.5 800.4 L471 800.1 L471.5 799.9 L472 799.7 L472.5 799.5 L473 799.3 L473.5 799.1 L474 798.9 L474.5 798.6 L475 798.3 L475.5 797.9 L476 797.5 L476.5 797.2 L477 796.9 L477.5 796.7 L478 796.5 L478.5 796.5 L479 796.4 L479.5 796.4 L480 796.3 L480.5 796.2 L481 796 L481.5 795.9 L482 795.7 L482.5 795.6 L483 795.5 L483.5 795.4 L484 795.5 L484.5 795.5 L485 795.5 L485.5 795.5 L486 795.5 L486.5 795.4 L487 795.2 L487.5 795.1 L488 795 L488.5 794.9 L489 794.9 L489.5 794.9 L490 794.9 L490.5 795 L491 795 L491.5 795 L492 794.9 L492.5 794.8 L493 794.7 L493.5 794.6 L494 794.5 L494.5 794.5 L495 794.5 L495.5 794.6 L496 794.6 L496.5 794.7 L497 794.7 L497.5 794.6 L498 794.5 L498.5 794.4 L499 794.2 L499.5 794.1 L500 794 L500.5 794 L501 794 L501.5 794 L502 794 L502.5 794 L503 793.9 L503.5 793.8 L504 793.6 L504.5 793.5 L505 793.3 L505.5 793.2 L506 793.1 L506.5 793 L507 793 L507.5 793 L508 793 L508.5 792.9 L509 792.8 L509.5 792.6 L510 792.4 L510.5 792.2 L511 792 L511.5 791.8 L512 791.7 L512.5 791.6 L513 791.6 L513.5 791.6 L514 791.5 L514.5 791.4 L515 791.2 L515.5 791 L516 790.8 L516.5 790.6 L517 790.4 L517.5 790.3 L518 790.2 L518.5 790.2 L519 790.2 L519.5 790.2 L520 790.1 L520.5 790 L521 789.8 L521.5 789.7 L522 789.5 L522.5 789.3 L523 789.2 L523.5 789.2 L524 789.2 L524.5 789.2 L525 789.1 L525.5 789.1 L526 789 L526.5 788.9 L527 788.8 L527.5 788.7 L528 788.6 L528.5 788.5 L529 788.4 L529.5 788.4 L530 788.3 L530.5 788.3 L531 788.2 L531.5 788.2 L532 788.1 L532.5 788 L533 787.9 L533.5 787.8 L534 787.7 L534.5 787.6 L535 787.6 L535.5 787.5 L536 787.5 L536.5 787.4 L537 787.3 L537.5 787.3 L538 787.2 L538.5 787.1 L539 786.9 L539.5 786.8 L540 786.8 L540.5 786.7 L541 786.6 L541.5 786.6 L542 786.5 L542.5 786.4 L543 786.4 L543.5 786.3 L544 786.2 L544.5 786 L545 785.9 L545.5 785.8 L546 785.8 L546.5 785.7 L547 785.6 L547.5 785.6 L548 785.5 L548.5 785.4 L549 785.4 L549.5 785.2 L550 785.1 L550.5 785 L551 784.9 L551.5 784.8 L552 784.8 L552.5 784.7 L553 784.6 L553.5 784.6 L554 784.5 L554.5 784.4 L555 784.3 L555.5 784.2 L556 784.1 L556.5 784 L557 783.9 L557.5 783.8 L558 783.7 L558.5 783.7 L559 783.6 L559.5 783.5 L560 783.5 L560.5 783.4 L561 783.3 L561.5 783.2 L562 783 L562.5 782.9 L563 782.8 L563.5 782.8 L564 782.7 L564.5 782.6 L565 782.6 L565.5 782.5 L566 782.4 L566.5 782.3 L567 782.2 L567.5 782.1 L568 782 L568.5 781.9 L569 781.8 L569.5 781.7 L570 781.7 L570.5 781.6 L571 781.5 L571.5 781.4 L572 781.3 L572.5 781.2 L573 781.1 L573.5 781 L574 780.9 L574.5 780.8 L575 780.7 L575.5 780.6 L576 780.6 L576.5 780.5 L577 780.4 L577.5 780.3 L578 780.2 L578.5 780 L579 779.9 L579.5 779.8 L580 779.7 L580.5 779.6 L581 779.5 L581.5 779.4 L582 779.4 L582.5 779.3 L583 779.2 L583.5 779 L584 778.9 L584.5 778.8 L585 778.6 L585.5 778.5 L586 778.4 L586.5 778.3 L587 778.2 L587.5 778.2 L588 778.1 L588.5 778 L589 777.9 L589.5 777.7 L590 777.6 L590.5 777.5 L591 777.3 L591.5 777.2 L592 777.1 L592.5 777.1 L593 777 L593.5 776.9 L594 776.8 L594.5 776.7 L595 776.6 L595.5 776.5 L596 776.3 L596.5 776.2 L597 776.1 L597.5 776 L598 775.9 L598.5 775.8 L599 775.7 L599.5 775.7 L600 775.6 L600.5 775.5 L601 775.3 L601.5 775.2 L602 775.1 L602.5 774.9 L603 774.8 L603.5 774.7 L604 774.7 L604.5 774.6 L605 774.5 L605.5 774.4 L606 774.3 L606.5 774.2 L607 774.1 L607.5 773.9 L608 773.8 L608.5 773.7 L609 773.6 L609.5 773.5 L610 773.5 L610.5 773.4 L611 773.3 L611.5 773.2 L612 773.1 L612.5 773 L613 772.9 L613.5 772.8 L614 772.7 L614.5 772.6 L615 772.5 L615.5 772.4 L616 772.4 L616.5 772.3 L617 772.2 L617.5 772.2 L618 772.1 L618.5 771.9 L619 771.8 L619.5 771.7 L620 771.6 L620.5 771.6 L621 771.5 L621.5 771.5 L622 771.4 L622.5 771.3 L623 771.3 L623.5 771.2 L624 771.1 L624.5 771 L625 770.9 L625.5 770.8 L626 770.7 L626.5 770.7 L627 770.6 L627.5 770.6 L628 770.5 L628.5 770.5 L629 770.4 L629.5 770.3 L630 770.2" fill="none" stroke="#0000ff" stroke-width="2.85" stroke-linejoin="round" stroke-linecap="round" />
<path d="M134.2 672.7 L134.7 672.6 L135.2 672.5 L135.7 672.5 L136.2 672.4 L136.7 672.3 L137.2 672.2 L137.7 672.2 L138.2 672.1 L138.7 672 L139.2 671.9 L139.7 671.8 L140.2 671.8 L140.7 671.7 L141.2 671.6 L141.7 671.5 L142.2 671.4 L142.7 671.4 L143.2 671.3 L143.7 671.2 L144.2 671.1 L144.7 671 L145.2 670.9 L145.7 670.9 L146.2 670.8 L146.7 670.7 L147.2 670.6 L147.7 670.5 L148.2 670.4 L148.7 670.4 L149.2 670.3 L149.7 670.2 L150.2 670.1 L150.7 670 L151.2 669.9 L151.7 669.8 L152.2 669.7 L152.7 669.7 L153.2 669.6 L153.7 669.5 L154.2 669.4 L154.7 669.3 L155.2 669.2 L155.7 669.1 L156.2 669 L156.7 668.9 L157.2 668.9 L157.7 668.8 L158.2 668.7 L158.7 668.6 L159.2 668.5 L159.7 668.4 L160.2 668.3 L160.7 668.2 L161.2 668.1 L161.7 668 L162.2 667.9 L162.7 667.8 L163.2 667.7 L163.7 667.6 L164.2 667.5 L164.7 667.5 L165.2 667.4 L165.7 667.3 L166.2 667.2 L166.7 667.1 L167.2 667 L167.7 666.9 L168.2 666.8 L168.7 666.7 L169.2 666.6 L169.7 666.5 L170.2 666.4 L170.7 666.3 L171.2 666.1 L171.7 666 L172.2 665.9 L172.7 665.8 L173.2 665.7 L173.7 665.6 L174.2 665.5 L174.7 665.4 L175.2 665.3 L175.7 665.2 L176.2 665.1 L176.7 665 L177.2 664.9 L177.7 664.8 L178.2 664.6 L178.7 664.5 L179.2 664.4 L179.7 664.3 L180.2 664.2 L180.7 664.1 L181.2 664 L181.7 663.9 L182.2 663.7 L182.7 663.6 L183.2 663.5 L183.7 663.4 L184.2 663.3 L184.7 663.2 L185.2 663.1 L185.7 662.9 L186.2 662.8 L186.7 662.7 L187.2 662.6 L187.7 662.5 L188.2 662.4 L188.7 662.2 L189.2 662.1 L189.7 662 L190.2 661.9 L190.7 661.8 L191.2 661.6 L191.7 661.5 L192.2 661.4 L192.7 661.3 L193.2 661.1 L193.7 661 L194.2 660.9 L194.7 660.8 L195.2 660.6 L195.7 660.5 L196.2 660.4 L196.7 660.2 L197.2 660.1 L197.7 660 L198.2 659.9 L198.7 659.7 L199.2 659.6 L199.7 659.5 L200.2 659.3 L200.7 659.2 L201.2 659.1 L201.7 659 L202.2 658.8 L202.7 658.7 L203.2 658.6 L203.7 658.4 L204.2 658.3 L204.7 658.2 L205.2 658 L205.7 657.9 L206.2 657.8 L206.7 657.6 L207.2 657.5 L207.7 657.4 L208.2 657.2 L208.7 657.1 L209.2 657 L209.7 656.9 L210.2 656.7 L210.7 656.6 L211.2 656.5 L211.7 656.3 L212.2 656.2 L212.7 656.1 L213.2 655.9 L213.7 655.8 L214.2 655.7 L214.7 655.6 L215.2 655.5 L215.7 655.3 L216.2 655.2 L216.7 655.1 L217.2 655 L217.7 654.9 L218.2 654.7 L218.7 654.6 L219.2 654.5 L219.7 654.4 L220.2 654.3 L220.7 654.1 L221.2 654 L221.7 653.9 L222.2 653.8 L222.7 653.7 L223.2 653.5 L223.7 653.4 L224.2 653.3 L224.7 653.1 L225.2 653 L225.7 652.9 L226.2 652.7 L226.7 652.6 L227.2 652.5 L227.7 652.3 L228.2 652.2 L228.7 652 L229.2 651.9 L229.7 651.8 L230.2 651.6 L230.7 651.5 L231.2 651.3 L231.7 651.2 L232.2 651 L232.7 650.9 L233.2 650.7 L233.7 650.5 L234.2 650.4 L234.7 650.2 L235.2 650.1 L235.7 649.9 L236.2 649.7 L236.7 649.6 L237.2 649.4 L237.7 649.2 L238.2 649.1 L238.7 648.9 L239.2 648.7 L239.7 648.6 L240.2 648.4 L240.7 648.2 L241.2 648 L241.7 647.9 L242.2 647.7 L242.7 647.5 L243.2 647.3 L243.7 647.1 L244.2 646.9 L244.7 646.7 L245.2 646.6 L245.7 646.4 L246.2 646.2 L246.7 646 L247.2 645.8 L247.7 645.6 L248.2 645.4 L248.7 645.1 L249.2 644.9 L249.7 644.7 L250.2 644.5 L250.7 644.3 L251.2 644.1 L251.7 643.8 L252.2 643.6 L252.7 643.4 L253.2 643.1 L253.7 642.9 L254.2 642.6 L254.7 642.4 L255.2 642.1 L255.7 641.9 L256.2 641.6 L256.7 641.3 L257.2 641.1 L257.7 640.8 L258.2 640.5 L258.7 640.2 L259.2 639.9 L259.7 639.7 L260.2 639.4 L260.7 639.1 L261.2 638.8 L261.7 638.5 L262.2 638.2 L262.7 637.9 L263.2 637.6 L263.7 637.3 L264.2 637 L264.7 636.7 L265.2 636.4 L265.7 636.1 L266.2 635.8 L266.7 635.4 L267.2 635.1 L267.7 634.8 L268.2 634.5 L268.7 634.1 L269.2 633.8 L269.7 633.5 L270.2 633.1 L270.7 632.8 L271.2 632.5 L271.7 632.1 L272.2 631.8 L272.7 631.4 L273.2 631.1 L273.7 630.7 L274.2 630.4 L274.7 630 L275.2 629.7 L275.7 629.3 L276.2 629 L276.7 628.6 L277.2 628.3 L277.7 627.9 L278.2 627.6 L278.7 627.2 L279.2 626.8 L279.7 626.5 L280.2 626.1 L280.7 625.8 L281.2 625.4 L281.7 625.1 L282.2 624.7 L282.7 624.3 L283.2 624 L283.7 623.6 L284.2 623.2 L284.7 622.9 L285.2 622.5 L285.7 622.1 L286.2 621.8 L286.7 621.4 L287.2 621 L287.7 620.6 L288.2 620.3 L288.7 619.9 L289.2 619.5 L289.7 619.1 L290.2 618.7 L290.7 618.3 L291.2 617.9 L291.7 617.5 L292.2 617.1 L292.7 616.7 L293.2 616.3 L293.7 615.9 L294.2 615.5 L294.7 615.1 L295.2 614.7 L295.7 614.3 L296.2 613.9 L296.7 613.5 L297.2 613.1 L297.7 612.7 L298.2 612.3 L298.7 611.9 L299.2 611.5 L299.7 611 L300.2 610.6 L300.7 610.2 L301.2 609.7 L301.7 609.3 L302.2 608.9 L302.7 608.4 L303.2 607.9 L303.7 607.5 L304.2 607 L304.7 606.6 L305.2 606.1 L305.7 605.6 L306.2 605.1 L306.7 604.6 L307.2 604.1 L307.7 603.6 L308.2 603 L308.7 602.5 L309.2 601.9 L309.7 601.4 L310.2 600.8 L310.7 600.2 L311.2 599.7 L311.7 599.1 L312.2 598.5 L312.7 597.9 L313.2 597.3 L313.7 596.7 L314.2 596.1 L314.7 595.5 L315.2 594.9 L315.7 594.2 L316.2 593.6 L316.7 593 L317.2 592.4 L317.7 591.8 L318.2 591.2 L318.7 590.6 L319.2 590 L319.7 589.4 L320.2 588.8 L320.7 588.2 L321.2 587.6 L321.7 587 L322.2 586.3 L322.7 585.7 L323.2 585.1 L323.7 584.5 L324.2 583.9 L324.7 583.3 L325.2 582.7 L325.7 582 L326.2 581.4 L326.7 580.8 L327.2 580.2 L327.7 579.6 L328.2 578.9 L328.7 578.3 L329.2 577.7 L329.7 577.1 L330.2 576.5 L330.7 575.9 L331.2 575.3 L331.7 574.7 L332.2 574.1 L332.7 573.5 L333.2 572.9 L333.7 572.3 L334.2 571.7 L334.7 571.1 L335.2 570.5 L335.7 569.9 L336.2 569.3 L336.7 568.8 L337.2 568.2 L337.7 567.6 L338.2 567 L338.7 566.5 L339.2 565.9 L339.7 565.3 L340.2 564.8 L340.7 564.2 L341.2 563.6 L341.7 563 L342.2 562.3 L342.7 561.7 L343.2 561.2 L343.7 560.6 L344.2 560.1 L344.7 559.7 L345.2 559.4 L345.7 559 L346.2 558.7 L346.7 558.3 L347.2 558 L347.7 557.7 L348.2 557.4 L348.7 557.2 L349.2 557 L349.7 556.9 L350.2 556.8 L350.7 556.8 L351.2 556.9 L351.7 556.9 L352.2 557.1 L352.7 557.3 L353.2 557.5 L353.7 557.7 L354.2 557.9 L354.7 558.2 L355.2 558.5 L355.7 558.8 L356.2 559.1 L356.7 559.6 L357.2 560.1 L357.7 560.6 L358.2 561.3 L358.7 562 L359.2 562.7 L359.7 563.5 L360.2 564.3 L360.7 565.3 L361.2 566.4 L361.7 567.6 L362.2 568.9 L362.7 570.4 L363.2 571.9 L363.7 573.5 L364.2 575.2 L364.7 577.1 L365.2 579.4 L365.7 581.8 L366.2 584.4 L366.7 587.1 L367.2 589.9 L367.7 592.9 L368.2 595.9 L368.7 598.8 L369.2 601.6 L369.7 604.1 L370.2 606.5 L370.7 609.1 L371.2 612 L371.7 615.3 L372.2 619.1 L372.7 623.1 L373.2 627.4 L373.7 631.9 L374.2 636.8 L374.7 642 L375.2 647.5 L375.7 653.2 L376.2 659.4 L376.7 666.4 L377.2 673.7 L377.7 680.8 L378.2 686.9 L378.7 691.7 L379.2 696.3 L379.7 700.5 L380.2 704.5 L380.7 708.1 L381.2 711.1 L381.7 713.7 L382.1 715.2 L382.5 716.8 L383 719.4 L383.5 722.4 L384 726 L384.5 730 L385 734.2 L385.5 738.8 L386 743.6 L386.5 749.7 L387 756.8 L387.5 764.1 L388 771.1 L388.5 777.3 L389 783 L389.5 788.5 L390 793.7 L390.5 798.6 L391 803.1 L391.5 807.4 L392 811.4 L392.5 815.2 L393 818.5 L393.5 821.4 L394 824 L394.5 826.4 L395 828.9 L395.5 831.7 L396 834.6 L396.5 837.6 L397 840.6 L397.5 843.4 L398 846.1 L398.5 848.7 L399 851.1 L399.5 853.4 L400 855.3 L400.5 857 L401 858.6 L401.5 860.1 L402 861.6 L402.5 862.9 L403 864.1 L403.5 865.2 L404 866.2 L404.5 867 L405 867.8 L405.5 868.5 L406 869.2 L406.5 869.9 L407 870.4 L407.5 870.9 L408 871.4 L408.5 871.7 L409 872 L409.5 872.3 L410 872.6 L410.5 872.8 L411 873 L411.5 873.2 L412 873.4 L412.5 873.6 L413 873.6 L413.5 873.7 L414 873.7 L414.5 873.6 L415 873.5 L415.5 873.3 L416 873.1 L416.5 872.8 L417 872.5 L417.5 872.2 L418 871.8 L418.5 871.5 L419 871.1 L419.5 870.8 L420 870.4 L420.5 869.9 L421 869.3 L421.5 868.8 L422 868.2 L422.5 867.5 L423 866.9 L423.5 866.3 L424 865.7 L424.5 865.2 L425 864.6 L425.5 864 L426 863.5 L426.5 862.9 L427 862.3 L427.5 861.7 L428 861.2 L428.5 860.6 L429 860 L429.5 859.4 L430 858.8 L430.5 858.2 L431 857.6 L431.5 857 L432 856.4 L432.5 855.8 L433 855.2 L433.5 854.6 L434 854 L434.5 853.4 L435 852.8 L435.5 852.2 L436 851.6 L436.5 850.9 L437 850.3 L437.5 849.7 L438 849.1 L438.5 848.5 L439 847.8 L439.5 847.2 L440 846.6 L440.5 846 L441 845.4 L441.5 844.8 L442 844.2 L442.5 843.5 L443 842.9 L443.5 842.3 L444 841.7 L444.5 841.1 L445 840.5 L445.5 839.9 L446 839.3 L446.5 838.7 L447 838.1 L447.5 837.5 L448 836.9 L448.5 836.3 L449 835.6 L449.5 835 L450 834.4 L450.5 833.8 L451 833.2 L451.5 832.6 L452 832 L452.5 831.4 L453 830.8 L453.5 830.3 L454 829.7 L454.5 829.1 L455 828.6 L455.5 828 L456 827.5 L456.5 826.9 L457 826.4 L457.5 825.9 L458 825.4 L458.5 824.9 L459 824.4 L459.5 823.9 L460 823.5 L460.5 823 L461 822.6 L461.5 822.1 L462 821.6 L462.5 821.2 L463 820.8 L463.5 820.3 L464 819.9 L464.5 819.5 L465 819 L465.5 818.6 L466 818.2 L466.5 817.8 L467 817.4 L467.5 817 L468 816.6 L468.5 816.2 L469 815.8 L469.5 815.4 L470 815 L470.5 814.6 L471 814.2 L471.5 813.9 L472 813.5 L472.5 813.2 L473 812.8 L473.5 812.4 L474 812.1 L474.5 811.7 L475 811.4 L475.5 811 L476 810.7 L476.5 810.4 L477 810 L477.5 809.7 L478 809.3 L478.5 809 L479 808.7 L479.5 808.4 L480 808 L480.5 807.7 L481 807.4 L481.5 807 L482 806.7 L482.5 806.4 L483 806.1 L483.5 805.7 L484 805.4 L484.5 805.1 L485 804.7 L485.5 804.4 L486 804.1 L486.5 803.7 L487 803.4 L487.5 803.1 L488 802.8 L488.5 802.4 L489 802.1 L489.5 801.8 L490 801.4 L490.5 801.1 L491 800.8 L491.5 800.5 L492 800.1 L492.5 799.8 L493 799.5 L493.5 799.2 L494 798.9 L494.5 798.5 L495 798.2 L495.5 797.9 L496 797.6 L496.5 797.3 L497 797 L497.5 796.7 L498 796.4 L498.5 796.1 L499 795.9 L499.5 795.6 L500 795.3 L500.5 795 L501 794.7 L501.5 794.5 L502 794.2 L502.5 793.9 L503 793.6 L503.5 793.4 L504 793.1 L504.5 792.8 L505 792.6 L505.5 792.3 L506 792 L506.5 791.8 L507 791.5 L507.5 791.3 L508 791 L508.5 790.8 L509 790.6 L509.5 790.3 L510 790 L510.5 789.7 L511 789.5 L511.5 789.2 L512 788.9 L512.5 788.7 L513 788.4 L513.5 788.2 L514 787.9 L514.5 787.7 L515 787.4 L515.5 787.2 L516 787 L516.5 786.7 L517 786.5 L517.5 786.3 L518 786.1 L518.5 785.8 L519 785.6 L519.5 785.4 L520 785.2 L520.5 785 L521 784.7 L521.5 784.5 L522 784.3 L522.5 784.1 L523 783.9 L523.5 783.7 L524 783.5 L524.5 783.3 L525 783.1 L525.5 782.9 L526 782.7 L526.5 782.5 L527 782.3 L527.5 782.1 L528 781.9 L528.5 781.7 L529 781.5 L529.5 781.3 L530 781.1 L530.5 780.9 L531 780.7 L531.5 780.6 L532 780.4 L532.5 780.2 L533 780 L533.5 779.8 L534 779.7 L534.5 779.5 L535 779.3 L535.5 779.1 L536 779 L536.5 778.8 L537 778.6 L537.5 778.5 L538 778.3 L538.5 778.2 L539 778 L539.5 777.8 L540 777.7 L540.5 777.5 L541 777.4 L541.5 777.2 L542 777.1 L542.5 776.9 L543 776.8 L543.5 776.7 L544 776.5 L544.5 776.4 L545 776.2 L545.5 776.1 L546 775.9 L546.5 775.8 L547 775.7 L547.5 775.5 L548 775.4 L548.5 775.2 L549 775.1 L549.5 774.9 L550 774.8 L550.5 774.7 L551 774.6 L551.5 774.4 L552 774.3 L552.5 774.2 L553 774 L553.5 773.9 L554 773.8 L554.5 773.6 L555 773.5 L555.5 773.4 L556 773.3 L556.5 773.1 L557 773 L557.5 772.9 L558 772.7 L558.5 772.6 L559 772.5 L559.5 772.3 L560 772.2 L560.5 772.1 L561 771.9 L561.5 771.8 L562 771.7 L562.5 771.5 L563 771.4 L563.5 771.3 L564 771.2 L564.5 771 L565 770.9 L565.5 770.8 L566 770.6 L566.5 770.5 L567 770.4 L567.5 770.3 L568 770.1 L568.5 770 L569 769.9 L569.5 769.7 L570 769.6 L570.5 769.5 L571 769.4 L571.5 769.2 L572 769.1 L572.5 769 L573 768.9 L573.5 768.7 L574 768.6 L574.5 768.5 L575 768.4 L575.5 768.3 L576 768.1 L576.5 768 L577 767.9 L577.5 767.8 L578 767.7 L578.5 767.6 L579 767.4 L579.5 767.3 L580 767.2 L580.5 767.1 L581 767 L581.5 766.9 L582 766.8 L582.5 766.6 L583 766.5 L583.5 766.4 L584 766.3 L584.5 766.2 L585 766.1 L585.5 766 L586 765.9 L586.5 765.7 L587 765.6 L587.5 765.5 L588 765.4 L588.5 765.3 L589 765.2 L589.5 765.1 L590 765 L590.5 764.9 L591 764.8 L591.5 764.7 L592 764.6 L592.5 764.5 L593 764.4 L593.5 764.2 L594 764.1 L594.5 764 L595 763.9 L595.5 763.8 L596 763.7 L596.5 763.6 L597 763.5 L597.5 763.4 L598 763.3 L598.5 763.2 L599 763.1 L599.5 763 L600 763 L600.5 762.9 L601 762.8 L601.5 762.7 L602 762.6 L602.5 762.5 L603 762.4 L603.5 762.3 L604 762.2 L604.5 762.1 L605 762 L605.5 761.9 L606 761.8 L606.5 761.7 L607 761.6 L607.5 761.6 L608 761.5 L608.5 761.4 L609 761.3 L609.5 761.2 L610 761.1 L610.5 761 L611 760.9 L611.5 760.8 L612 760.8 L612.5 760.7 L613 760.6 L613.5 760.5 L614 760.4 L614.5 760.3 L615 760.2 L615.5 760.1 L616 760.1 L616.5 760 L617 759.9 L617.5 759.8 L618 759.7 L618.5 759.6 L619 759.6 L619.5 759.5 L620 759.4 L620.5 759.3 L621 759.2 L621.5 759.1 L622 759.1 L622.5 759 L623 758.9 L623.5 758.8 L624 758.7 L624.5 758.7 L625 758.6 L625.5 758.5 L626 758.4 L626.5 758.3 L627 758.3 L627.5 758.2 L628 758.1 L628.5 758 L629 758 L629.5 757.9 L630 757.8" fill="none" stroke="#ff00ff" stroke-width="2.85" stroke-linejoin="round" stroke-linecap="round" />
<path d="M134.2 701.9 L134.9 701.8 L135.6 701.7 L136.3 701.9 L137 701.7 L137.7 701.4 L138.4 701.4 L139.1 701.2 L139.8 701.3 L140.5 701.3 L141.2 701.1 L141.9 701.2 L142.6 701.1 L143.3 700.9 L144 700.9 L144.7 700.8 L145.4 700.8 L146.1 700.8 L146.8 700.5 L147.5 700.4 L148.2 700.4 L148.9 700.3 L149.6 700.3 L150.3 700.3 L151 700.3 L151.7 700.4 L152.4 700.1 L153.1 699.9 L153.8 699.8 L154.5 699.7 L155.2 699.8 L155.9 699.7 L156.6 699.6 L157.3 699.7 L158 699.6 L158.7 699.4 L159.4 699.4 L160.1 699.3 L160.8 699.3 L161.5 699.2 L162.2 698.9 L162.9 698.9 L163.6 698.9 L164.3 698.8 L165 698.9 L165.7 698.8 L166.4 698.9 L167.1 698.8 L167.8 698.5 L168.5 698.4 L169.2 698.5 L169.9 698.4 L170.6 698.4 L171.3 698.3 L172 698.2 L172.7 698.3 L173.4 698.1 L174.1 698 L174.8 698.1 L175.5 698 L176.2 697.9 L176.9 697.7 L177.6 697.6 L178.3 697.7 L179 697.6 L179.7 697.6 L180.4 697.7 L181.1 697.6 L181.8 697.6 L182.5 697.3 L183.2 697.1 L183.9 697.2 L184.6 697.2 L185.3 697 L186 697 L186.7 697 L187.4 696.9 L188.1 697 L188.8 696.7 L189.5 696.8 L190.2 696.9 L190.9 696.6 L191.6 696.6 L192.3 696.3 L193 696.3 L193.7 696.3 L194.4 696.2 L195.1 696.2 L195.8 696.3 L196.5 696.2 L197.2 696 L197.9 695.8 L198.6 695.6 L199.3 695.7 L200 695.6 L200.7 695.5 L201.4 695.4 L202.1 695.3 L202.8 695.3 L203.5 695.2 L204.2 695 L204.9 695.1 L205.6 695 L206.3 694.8 L207 694.6 L207.7 694.4 L208.4 694.4 L209.1 694.3 L209.8 694.1 L210.5 694.3 L211.2 694.2 L211.9 693.9 L212.6 693.8 L213.3 693.5 L214 693.5 L214.7 693.6 L215.4 693.3 L216.1 693.2 L216.8 693.1 L217.5 693 L218.2 693 L218.9 692.8 L219.6 692.7 L220.3 692.8 L221 692.5 L221.7 692.3 L222.4 692.1 L223.1 692 L223.8 692 L224.5 691.9 L225.2 691.8 L225.9 691.9 L226.6 691.7 L227.3 691.4 L228 691.3 L228.7 691.1 L229.4 691.2 L230.1 691 L230.8 690.7 L231.5 690.7 L232.2 690.6 L232.9 690.4 L233.6 690.4 L234.3 690.2 L235 690.2 L235.7 690.2 L236.4 689.7 L237.1 689.4 L237.8 689.4 L238.5 689.2 L239.2 689.3 L239.9 689 L240.6 688.9 L241.3 689 L242 688.7 L242.7 688.4 L243.4 688.3 L244.1 688.1 L244.8 688.1 L245.5 687.8 L246.2 687.3 L246.9 687.3 L247.6 687.1 L248.3 687 L249 687.1 L249.7 686.8 L250.4 686.8 L251.1 686.4 L251.8 685.7 L252.5 685.6 L253.2 685.7 L253.9 685.4 L254.6 685.4 L255.3 685 L256 685.2 L256.7 685 L257.4 684.2 L258.1 684.2 L258.8 684.1 L259.5 683.9 L260.2 683.5 L260.9 682.8 L261.6 682.7 L262.3 682.8 L263 682.4 L263.7 682.2 L264.4 682.5 L265.1 682.2 L265.8 682 L266.5 681 L267.2 680.5 L267.9 680.7 L268.6 680.6 L269.3 680.3 L270 680.1 L270.7 679.8 L271.4 680 L272.1 679.4 L272.8 678.8 L273.5 679.1 L274.2 679 L274.9 678.5 L275.6 678.1 L276.3 677.3 L277 677.4 L277.7 677.2 L278.4 676.6 L279.1 677 L279.8 676.7 L280.5 676.2 L281.2 675.6 L281.9 674.5 L282.6 674.1 L283.3 674.2 L284 673.6 L284.7 673.2 L285.4 673.1 L286.1 672.6 L286.8 672.3 L287.5 671.4 L288.2 670.9 L288.9 671.1 L289.6 670.4 L290.3 669.5 L291 669 L291.7 668.2 L292.4 668.4 L293.1 668.1 L293.8 667.4 L294.5 667.8 L295.2 667.5 L295.9 666.4 L296.6 665.5 L297.3 664.8 L298 664.9 L298.7 664.8 L299.4 663.5 L300.1 663.6 L300.8 663.1 L301.5 662.6 L302.2 662.3 L302.9 661.2 L303.6 661.3 L304.3 661.5 L305 660 L305.7 658.9 L306.4 658.4 L307.1 657.8 L307.8 657.7 L308.5 657 L309.2 656.4 L309.9 656.8 L310.6 655.2 L311.3 654.3 L312 653.3 L312.7 652.5 L313.4 652.7 L314.1 651.5 L314.8 650.5 L315.5 650.2 L316.2 649.5 L316.9 648.8 L317.6 648.2 L318.3 647 L319 647.1 L319.7 646.3 L320.4 644 L321.1 643.2 L321.8 642.7 L322.5 641.8 L323.2 641.6 L323.9 640.3 L324.6 640.1 L325.3 639.4 L326 637.1 L326.7 636.1 L327.4 635 L328.1 634.2 L328.8 633.5 L329.5 631.2 L330.2 630.4 L330.9 629.9 L331.6 628 L332.3 626.8 L333 625.7 L333.7 624.9 L334.4 623.9 L335.1 621.5 L335.8 619 L336.5 618.2 L337.2 616.9 L337.9 615.6 L338.6 614.6 L339.3 613 L340 612.3 L340.7 609.5 L341.4 606.8 L342.1 605.3 L342.8 603.6 L343.5 601.6 L344.2 599.4 L344.9 596.4 L345.6 594.6 L346.3 592.6 L347 589.5 L347.5 587.7 L348 585.8 L348.2 583.9 L348.8 582.2 L349.6 580.6 L351 580.2 L352.6 582.8 L352.8 581.2 L353.2 579.6 L353.5 577.9 L353.5 576.4 L353.5 574.5 L353.6 573.1 L354.4 571.7 L354.1 569.9 L355.3 567.8 L355.1 566.9 L355.3 565.2 L356.1 563.4 L356.7 561.9 L357.1 560.3 L357.5 558.3 L358.1 556.5 L358.1 554.5 L358.9 552.9 L359.4 550.5 L360.6 551 L361.4 552.9 L361.4 555.5 L361 553.5 L361.2 552.5 L361.6 550.7 L361.6 548.6 L361.6 547.9 L362 545.9 L361.5 544.6 L361.8 542.7 L361.9 541 L362 539.1 L362.5 537.4 L362.6 535.9 L363.4 534 L363.3 532.2 L363.9 530.4 L363.8 528.2 L364.4 526.4 L364.4 524.6 L364.3 526.6 L364.4 528.1 L364.9 529.3 L365.8 530.9 L365.8 532.5 L365.8 534.2 L366.3 536.2 L366 537.4 L366 539.6 L366.1 541.4 L366.1 543.2 L366.5 545.2 L366.6 546.8 L367.4 545 L367.6 542.7 L368.2 540.7 L368.8 538.9 L369 537.8 L369.4 535.7 L369.2 534.1 L369.8 532.3 L369.9 530.6 L370 532.2 L369.9 533.8 L370.2 535.8 L371.1 537 L370.5 539.2 L371 540.6 L371.3 542.3 L371 543.9 L371.7 546.2 L371.7 548 L372.1 550.1 L371.7 551.5 L371.9 553.1 L371.9 555.3 L372.2 556.2 L372.4 558.7 L372.3 560 L372.8 561.8 L372.1 563.7 L373.1 565.4 L372.8 566.7 L373.2 568.2 L373.3 570.3 L373.2 572 L373.3 574.1 L374.1 575.3 L374.7 577.5 L374.7 579.7 L374.9 581.6 L375.8 582.8 L375.7 585.4 L376 587 L376.1 589 L376.1 590.5 L376.1 592.5 L376.8 593.9 L376.4 595.4 L376.8 597 L376.8 599 L376.9 600.5 L376.9 602.2 L377.3 603.7 L377.1 605.3 L377.1 607.1 L377.6 609 L377.5 610.3 L377.6 612 L377.9 613.6 L377.8 615.3 L377.6 617 L377.7 618.4 L378.2 620 L378 621.7 L378.3 623.3 L378 625 L378 626.5 L378.5 627.9 L378.4 629.8 L378.3 631.1 L378.3 632.7 L378.4 634.4 L378.8 636.2 L378.9 637.8 L379 639.1 L378.9 640.6 L379 642.7 L379 644 L379 645.6 L379.2 647.3 L379.5 649.2 L379.5 650.8 L379.6 652.1 L379.5 654 L379.7 655.7 L379.7 657 L380 658.7 L380.1 660.3 L380.2 662.1 L380.2 663.6 L380.1 665.4 L380.3 667.2 L380.2 668.9 L380.6 670.2 L380.4 672.2 L380.6 673.6 L380.8 675.3 L380.8 677 L380.6 678.9 L380.6 680.5 L380.9 682 L381 683.9 L381.2 685.3 L380.9 686.9 L380.9 688.7 L381 690.2 L381.1 691.9 L381.4 693.6 L381.4 695.1 L381.4 696.8 L381.6 698.4 L381.6 700.4 L381.6 701.7 L381.6 703.5 L381.6 705.2 L382 707.1 L382.1 708.7 L381.8 710.5 L382 711.8 L382.2 713.5 L382.1 715.2 L382 717 L382.2 718.7 L382.4 720 L382.1 721.8 L382.2 723.4 L382.6 725.3 L382.6 727 L382.6 728.8 L382.6 730.1 L382.6 732.1 L382.8 733.7 L382.8 735.4 L382.8 736.9 L383.1 738.6 L383.2 740.3 L383.3 741.8 L383.3 743.6 L383 745.2 L383.2 746.6 L383.3 748.5 L383.6 750 L383.6 751.6 L383.4 753.5 L383.4 755.2 L383.6 756.9 L383.8 758.3 L383.6 760.3 L384 761.6 L383.9 763.3 L384.1 765.1 L384 766.9 L384 768.4 L384.1 770.2 L384.2 771.8 L384.5 773.5 L384.5 774.8 L384.7 776.5 L384.6 778.4 L384.7 779.7 L384.7 781.3 L385 783.2 L385.2 784.9 L385.2 786.5 L385.2 787.8 L385.3 789.9 L385.2 791.4 L385.3 792.7 L385.4 794.3 L385.8 796.1 L385.9 797.8 L385.9 799.4 L385.8 800.7 L385.7 802.6 L386.2 804 L386.2 805.5 L385.9 807.2 L386.2 808.8 L386 810.5 L386.5 812.1 L386.6 813.5 L386.4 815.2 L386.3 816.9 L386.6 818.5 L386.7 820.2 L386.6 821.5 L387.1 823.4 L387.1 825.2 L386.9 826.8 L387.3 828.3 L387.3 830 L387.4 831.5 L387.4 833.5 L387.8 835.1 L387.4 836.6 L388.1 838 L388.1 840 L388.1 841.5 L388.2 843.5 L388.5 845.1 L388.4 847.7 L389.3 848.9 L389.5 850.8 L389.5 853 L390.1 855.2 L390.9 856.4 L391 858.5 L390.9 860.2 L391 862.3 L391.4 863.8 L391.1 865.1 L392.1 866.8 L391.4 868.7 L391.9 870.5 L391.8 871.8 L392 874.3 L392.3 875.2 L392.3 877.4 L392.5 879 L392.1 880.4 L392.5 882.5 L392.5 884.3 L393.2 886.6 L392.9 888.2 L393.2 889.9 L393.7 891.3 L393.1 893.5 L394 894.7 L394.3 896.7 L394.2 898.3 L394.3 899.9 L394.4 898.2 L395 896.4 L394.8 894.8 L395.2 892.7 L395.4 891.6 L396 889.8 L396.6 887.8 L396.8 885.5 L397.6 883.7 L397.7 885.3 L398.1 887.3 L398.1 889.1 L398.2 890.9 L398.2 893.1 L397.9 894.3 L398.4 896.3 L398.4 898 L398.4 899.6 L399.3 901.2 L399.8 902.4 L399.9 903.9 L399.8 905.9 L399.8 904.1 L400.4 902.3 L400.3 900.1 L400.9 898.3 L400.8 896.5 L401.6 894.6 L401.7 893.1 L402.2 891.4 L402.3 889.5 L402.4 887.8 L402.7 885.9 L402.2 884.6 L402.6 882.6 L402.6 881.9 L402.6 879.8 L403 878 L403.2 877 L402.8 875 L402.8 877.6 L403.6 879.5 L404.8 880 L405.3 877.6 L406.1 876 L406.1 874 L406.7 872.2 L407.1 870.2 L407.5 868.6 L408.1 867.1 L408.9 865.3 L409.1 863.6 L408.9 862.7 L410.1 860.6 L409.8 858.8 L410.6 857.4 L410.7 856 L410.7 854.1 L410.7 852.6 L411 850.9 L411.4 849.3 L411.6 847.7 L413.2 850.3 L414.6 849.9 L415.4 848.4 L416 847 L416.2 845.1 L416.7 843.4 L417.2 841.8 L417.9 838.8 L418.6 837.1 L419.3 835.5 L420 832.8 L420.7 830.8 L421.4 829 L422.1 827.5 L422.8 826.3 L423.5 823.8 L424.2 821.2 L424.9 820.4 L425.6 818.7 L426.3 817.6 L427 816.2 L427.7 814.9 L428.4 814 L429.1 811.4 L429.8 809 L430.5 807.8 L431.2 807 L431.9 805.8 L432.6 804.6 L433.3 802.5 L434 802 L434.7 801.1 L435.4 798.7 L436.1 798 L436.8 797.1 L437.5 795.9 L438.2 794.9 L438.9 792.5 L439.6 791.8 L440.3 791.5 L441 790.2 L441.7 789.9 L442.4 789 L443.1 788.5 L443.8 787.5 L444.5 785.2 L445.2 784.3 L445.9 784.4 L446.6 783.1 L447.3 782.5 L448 781.7 L448.7 781 L449.4 780.6 L450.1 779.6 L450.8 778.4 L451.5 778.5 L452.2 777.6 L452.9 776.7 L453.6 775.7 L454.3 774 L455 774.4 L455.7 773.8 L456.4 773 L457.1 772.9 L457.8 772.3 L458.5 771.7 L459.2 770.5 L459.9 769 L460.6 769.2 L461.3 769.3 L462 768.2 L462.7 767.9 L463.4 767.4 L464.1 766.9 L464.8 767 L465.5 765.7 L466.2 765.6 L466.9 765.7 L467.6 765 L468.3 764.1 L469 763 L469.7 762.7 L470.4 763.1 L471.1 762.4 L471.8 762.1 L472.5 762.3 L473.2 761.5 L473.9 761 L474.6 760.1 L475.3 759.4 L476 759.6 L476.7 759.1 L477.4 758.2 L478.1 757.9 L478.8 757.4 L479.5 757.3 L480.2 756.9 L480.9 756.3 L481.6 756.4 L482.3 756 L483 754.9 L483.7 754.3 L484.4 753.8 L485.1 753.5 L485.8 753.9 L486.5 753.3 L487.2 753.1 L487.9 753.2 L488.6 752.4 L489.3 752 L490 751.5 L490.7 751.4 L491.4 751.7 L492.1 751.1 L492.8 750.5 L493.5 750.7 L494.2 750.4 L494.9 750.2 L495.6 749.9 L496.3 749.8 L497 750 L497.7 749.5 L498.4 748.5 L499.1 748.3 L499.8 748 L500.5 748.3 L501.2 748.1 L501.9 747.7 L502.6 747.8 L503.3 747.7 L504 747 L504.7 746.6 L505.4 746.4 L506.1 746.3 L506.8 746.3 L507.5 745.5 L508.2 745.3 L508.9 745.5 L509.6 745.1 L510.3 745.1 L511 744.8 L511.7 744.9 L512.4 744.8 L513.1 744.1 L513.8 743.7 L514.5 743.7 L515.2 743.4 L515.9 743.5 L516.6 743.4 L517.3 743.2 L518 743.2 L518.7 742.7 L519.4 742.4 L520.1 742.4 L520.8 742.2 L521.5 742.1 L522.2 741.8 L522.9 741.5 L523.6 741.6 L524.3 741.5 L525 741.2 L525.7 741.3 L526.4 741.1 L527.1 741.1 L527.8 740.8 L528.5 740.3 L529.2 740.3 L529.9 740.3 L530.6 740.1 L531.3 740.1 L532 739.9 L532.7 739.8 L533.4 739.8 L534.1 739.5 L534.8 739.3 L535.5 739.4 L536.2 739.2 L536.9 739.1 L537.6 738.8 L538.3 738.6 L539 738.7 L539.7 738.6 L540.4 738.5 L541.1 738.5 L541.8 738.4 L542.5 738.2 L543.2 738 L543.9 737.7 L544.6 737.8 L545.3 737.7 L546 737.5 L546.7 737.5 L547.4 737.4 L548.1 737.3 L548.8 737.2 L549.5 736.9 L550.2 737 L550.9 737 L551.6 736.7 L552.3 736.6 L553 736.3 L553.7 736.2 L554.4 736.4 L555.1 736.2 L555.8 736.1 L556.5 736.1 L557.2 735.9 L557.9 735.7 L558.6 735.5 L559.3 735.4 L560 735.5 L560.7 735.3 L561.4 735.2 L562.1 735.2 L562.8 735.1 L563.5 735 L564.2 734.9 L564.9 734.8 L565.6 734.9 L566.3 734.7 L567 734.5 L567.7 734.3 L568.4 734.2 L569.1 734.3 L569.8 734.3 L570.5 734.2 L571.2 734.2 L571.9 734.2 L572.6 733.9 L573.3 733.9 L574 733.6 L574.7 733.7 L575.4 733.8 L576.1 733.5 L576.8 733.6 L577.5 733.5 L578.2 733.5 L578.9 733.5 L579.6 733.3 L580.3 733.3 L581 733.4 L581.7 733.2 L582.4 732.9 L583.1 732.9 L583.8 732.8 L584.5 732.9 L585.2 732.9 L585.9 732.8 L586.6 732.9 L587.3 732.8 L588 732.6 L588.7 732.5 L589.4 732.4 L590.1 732.5 L590.8 732.4 L591.5 732.2 L592.2 732.3 L592.9 732.2 L593.6 732.1 L594.3 732.1 L595 732 L595.7 732.1 L596.4 732 L597.1 731.7 L597.8 731.6 L598.5 731.7 L599.2 731.6 L599.9 731.7 L600.6 731.6 L601.3 731.6 L602 731.6 L602.7 731.3 L603.4 731.2 L604.1 731.2 L604.8 731.1 L605.5 731.1 L606.2 730.9 L606.9 730.8 L607.6 730.9 L608.3 730.8 L609 730.7 L609.7 730.8 L610.4 730.7 L611.1 730.6 L611.8 730.4 L612.5 730.1 L613.2 730.2 L613.9 730.2 L614.6 730.2 L615.3 730.2 L616 730.1 L616.7 730.1 L617.4 730 L618.1 729.7 L618.8 729.7 L619.5 729.7 L620.2 729.6 L620.9 729.6 L621.6 729.4 L622.3 729.3 L623 729.4 L623.7 729.2 L624.4 729.2 L625.1 729.3 L625.8 729.1 L626.5 729.1 L627.2 728.8 L627.9 728.6 L628.6 728.8 L629.3 728.7 L630 728.6" fill="none" stroke="#ff0000" stroke-width="2.85" stroke-linejoin="round" stroke-linecap="round" />
<path d="M370.9 547 L371.5 560 L372.1 573.5" fill="none" stroke="#ff0000" stroke-width="4.6" stroke-linejoin="round" stroke-linecap="round" />
<path d="M393.3 883.5 L392.7 870.5 L392.1 857" fill="none" stroke="#ff0000" stroke-width="4.6" stroke-linejoin="round" stroke-linecap="round" />
<path d="M365.6 537 L366.7 545.5 L368 542" fill="none" stroke="#ff0000" stroke-width="3.8" stroke-linejoin="round" stroke-linecap="round" />
<path d="M398.6 893.5 L397.5 885 L396.2 888.5" fill="none" stroke="#ff0000" stroke-width="3.8" stroke-linejoin="round" stroke-linecap="round" />
<path d="M359 552.5 L361.6 553.5" fill="none" stroke="#ff0000" stroke-width="3.6" stroke-linejoin="round" stroke-linecap="round" />
<path d="M405.2 878 L402.6 877" fill="none" stroke="#ff0000" stroke-width="3.6" stroke-linejoin="round" stroke-linecap="round" />
<path d="M361.6 543 L363 536.5" fill="none" stroke="#ff0000" stroke-width="3.6" stroke-linejoin="round" stroke-linecap="round" />
<path d="M402.6 887.5 L401.2 894" fill="none" stroke="#ff0000" stroke-width="3.6" stroke-linejoin="round" stroke-linecap="round" />
</g>
<text x="322" y="67.6" font-size="26.8" text-anchor="start" >1/B (T<tspan font-size="15.5" dy="-12.5" dx="0.5">-1</tspan><tspan dy="12.5" dx="0.3">)</tspan></text>
<text x="525.8" y="142.8" font-size="21.5" text-anchor="start" >T = 4.5 K</text>
<text x="474.6" y="194.1" font-size="22.3" text-anchor="start" >G1</text>
<text x="546.2" y="263.3" font-size="22.3" text-anchor="start" >E1</text>
<text x="495" y="316.6" font-size="22.3" text-anchor="start" >C1</text>
<text x="498.8" y="396.3" font-size="22.3" text-anchor="start" >B12</text>
<text x="533.2" y="472.1" font-size="22.3" text-anchor="start" >F1</text>
<text transform="translate(91.8 409) rotate(-90)" font-size="22" >&#916;</text>
<text transform="translate(91.8 394.6) rotate(-90)" font-size="22" >&#961;</text>
<text transform="translate(101.8 382.2) rotate(-90)" font-size="14.5" >xx</text>
<text transform="translate(92.2 360.6) rotate(-90)" font-size="24.9" >(arb. units)</text>
<text x="508.6" y="568.6" font-size="25.3" text-anchor="start" >T = 2 K</text>
<text x="297.2" y="560.3" font-size="26.8" text-anchor="start" >B6</text>
<text x="154.6" y="628.6" font-size="26.8" text-anchor="start" >B10</text>
<text x="394.8" y="578.8" font-size="26.8" text-anchor="start" >G1</text>
<text x="354.4" y="964.2" font-size="27" text-anchor="start" >B(T)</text>
<line x1="204.9" y1="641.6" x2="175.5" y2="641.6" stroke="#0000ff" stroke-width="1.0"/>
<path d="M167.5 641.6 L177.5 639 L177.5 644.2 Z" fill="#0000ff"/>
<line x1="329.4" y1="573.8" x2="306" y2="573.8" stroke="#0000ff" stroke-width="1.0"/>
<path d="M298 573.8 L308 571.2 L308 576.4 Z" fill="#0000ff"/>
<line x1="375.1" y1="545.1" x2="412.3" y2="545.1" stroke="#0000ff" stroke-width="1.0"/>
<path d="M420.3 545.1 L410.3 542.5 L410.3 547.7 Z" fill="#0000ff"/>
<text transform="translate(705.3 790.7) rotate(-90)" font-size="26" >&#963;</text>
<text transform="translate(715.5 775.1) rotate(-90)" font-size="16" >xy</text>
<text transform="translate(705.5 757.3) rotate(-90)" font-size="26" >(10</text>
<text transform="translate(689.7 719.5) rotate(-90)" font-size="15" >4</text>
<text transform="translate(705.3 706.9) rotate(-90)" font-size="23" >&#937;</text>
<text transform="translate(690.9 689.9) rotate(-90)" font-size="15" >-1</text>
<text transform="translate(705.3 669.9) rotate(-90)" font-size="26" >cm</text>
<text transform="translate(690.9 636.4) rotate(-90)" font-size="15" >-1</text>
<text transform="translate(705.5 623.3) rotate(-90)" font-size="26" >)</text>
<text transform="translate(69.7 784) rotate(-90)" font-size="26" >&#963;</text>
<text transform="translate(79.9 768.4) rotate(-90)" font-size="16" >xy</text>
<text transform="translate(69.9 750.6) rotate(-90)" font-size="26" >(10</text>
<text transform="translate(54.1 712.8) rotate(-90)" font-size="15" >4</text>
<text transform="translate(69.7 700.2) rotate(-90)" font-size="23" >&#937;</text>
<text transform="translate(55.3 683.2) rotate(-90)" font-size="15" >-1</text>
<text transform="translate(69.7 663.2) rotate(-90)" font-size="26" >cm</text>
<text transform="translate(55.3 629.7) rotate(-90)" font-size="15" >-1</text>
<text transform="translate(69.9 616.6) rotate(-90)" font-size="26" >)</text>
</svg>
</body></html>
